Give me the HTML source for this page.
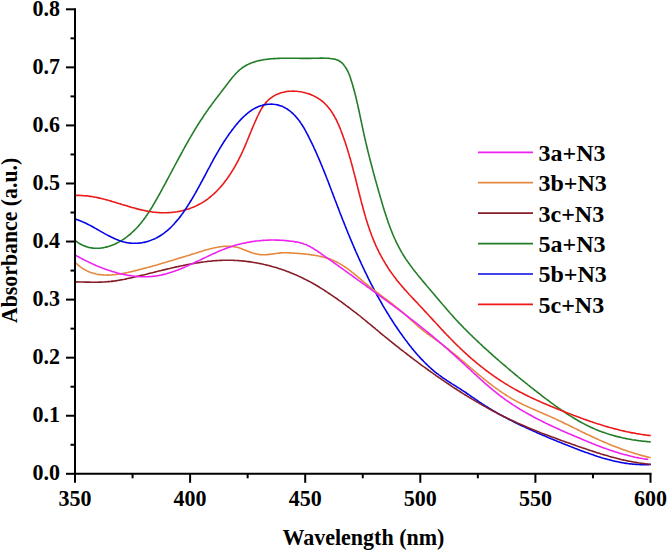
<!DOCTYPE html>
<html><head><meta charset="utf-8"><style>
html,body{margin:0;padding:0;background:#fff;}
body{width:668px;height:551px;overflow:hidden;}
svg{display:block;}
text{font-family:"Liberation Serif",serif;font-weight:bold;fill:#000;}
</style></head><body>
<svg width="668" height="551" viewBox="0 0 668 551">
<rect width="668" height="551" fill="#fff"/>
<g fill="none" stroke-width="1.6" stroke-linejoin="round" stroke-linecap="butt">
<path d="M74.83,240.21 C75.1,240.4 76.0,241.2 76.6,241.6 C77.2,242.1 77.8,242.5 78.4,242.9 C79.1,243.3 79.7,243.6 80.3,244.0 C80.9,244.3 81.5,244.7 82.1,245.0 C82.8,245.3 83.4,245.6 84.0,245.8 C84.6,246.1 85.3,246.3 85.9,246.5 C86.5,246.8 87.2,246.9 87.8,247.1 C88.5,247.3 89.1,247.5 89.7,247.6 C90.4,247.7 91.0,247.8 91.7,247.9 C92.3,248.0 92.9,248.1 93.6,248.2 C94.2,248.2 94.9,248.3 95.5,248.3 C96.2,248.3 96.8,248.3 97.5,248.3 C98.1,248.3 98.7,248.3 99.4,248.2 C100.0,248.2 100.7,248.1 101.3,248.0 C102.0,247.9 102.6,247.8 103.3,247.7 C103.9,247.6 104.5,247.5 105.2,247.3 C105.8,247.2 106.4,247.0 107.1,246.9 C107.7,246.7 108.3,246.5 109.0,246.3 C109.6,246.1 110.2,245.9 110.8,245.7 C111.5,245.5 112.1,245.2 112.7,245.0 C113.3,244.7 113.9,244.5 114.6,244.2 C115.2,243.9 115.8,243.6 116.4,243.3 C117.0,243.0 117.6,242.7 118.2,242.4 C118.8,242.1 119.4,241.8 119.9,241.4 C120.5,241.1 121.1,240.7 121.7,240.4 C122.3,240.0 122.8,239.7 123.4,239.3 C123.9,238.9 124.5,238.5 125.1,238.2 C125.6,237.8 126.2,237.4 126.7,237.0 C127.2,236.6 127.8,236.1 128.3,235.7 C128.8,235.3 129.3,234.9 129.9,234.5 C130.4,234.0 130.9,233.6 131.4,233.1 C131.9,232.7 132.4,232.2 132.8,231.8 C133.3,231.3 133.8,230.9 134.3,230.4 C134.8,230.0 135.2,229.5 135.7,229.0 C136.1,228.5 136.6,228.0 137.1,227.6 C137.5,227.1 137.9,226.6 138.4,226.1 C138.8,225.6 139.3,225.1 139.7,224.6 C140.1,224.1 140.5,223.6 141.0,223.1 C141.4,222.6 141.8,222.0 142.2,221.5 C142.6,221.0 143.0,220.5 143.4,219.9 C143.8,219.4 144.2,218.9 144.6,218.3 C145.0,217.8 145.4,217.3 145.8,216.7 C146.1,216.2 146.5,215.6 146.9,215.1 C147.3,214.5 147.6,214.0 148.0,213.4 C148.4,212.9 148.7,212.3 149.1,211.8 C149.5,211.2 149.8,210.6 150.2,210.1 C150.5,209.5 150.9,208.9 151.2,208.4 C151.6,207.8 151.9,207.2 152.3,206.7 C152.6,206.1 153.0,205.5 153.3,204.9 C153.7,204.4 154.0,203.8 154.3,203.2 C154.7,202.6 155.0,202.0 155.3,201.5 C155.7,200.9 156.0,200.3 156.3,199.7 C156.7,199.1 157.0,198.5 157.3,198.0 C157.7,197.4 158.0,196.8 158.3,196.2 C158.6,195.6 159.0,195.0 159.3,194.4 C159.6,193.9 159.9,193.3 160.3,192.7 C160.6,192.1 160.9,191.5 161.2,190.9 C161.5,190.3 161.9,189.7 162.2,189.2 C162.5,188.6 162.8,188.0 163.1,187.4 C163.5,186.8 163.8,186.2 164.1,185.6 C164.4,185.0 164.7,184.4 165.1,183.9 C165.4,183.3 165.7,182.7 166.0,182.1 C166.3,181.5 166.6,180.9 167.0,180.3 C167.3,179.7 167.6,179.1 167.9,178.5 C168.2,178.0 168.5,177.4 168.8,176.8 C169.2,176.2 169.5,175.6 169.8,175.0 C170.1,174.4 170.4,173.8 170.7,173.2 C171.0,172.6 171.4,172.1 171.7,171.5 C172.0,170.9 172.3,170.3 172.6,169.7 C172.9,169.1 173.2,168.5 173.6,167.9 C173.9,167.3 174.2,166.7 174.5,166.2 C174.8,165.6 175.1,165.0 175.4,164.4 C175.8,163.8 176.1,163.2 176.4,162.6 C176.7,162.0 177.0,161.4 177.3,160.9 C177.6,160.3 178.0,159.7 178.3,159.1 C178.6,158.5 178.9,157.9 179.2,157.3 C179.5,156.7 179.9,156.2 180.2,155.6 C180.5,155.0 180.8,154.4 181.1,153.8 C181.4,153.2 181.8,152.6 182.1,152.1 C182.4,151.5 182.7,150.9 183.0,150.3 C183.4,149.7 183.7,149.1 184.0,148.6 C184.3,148.0 184.6,147.4 185.0,146.8 C185.3,146.2 185.6,145.7 185.9,145.1 C186.3,144.5 186.6,143.9 186.9,143.3 C187.2,142.8 187.6,142.2 187.9,141.6 C188.2,141.0 188.6,140.5 188.9,139.9 C189.2,139.3 189.5,138.7 189.9,138.2 C190.2,137.6 190.5,137.0 190.9,136.4 C191.2,135.9 191.5,135.3 191.9,134.7 C192.2,134.2 192.6,133.6 192.9,133.0 C193.2,132.4 193.6,131.9 193.9,131.3 C194.3,130.7 194.6,130.2 194.9,129.6 C195.3,129.0 195.6,128.5 196.0,127.9 C196.3,127.4 196.7,126.8 197.0,126.2 C197.4,125.7 197.7,125.1 198.1,124.6 C198.4,124.0 198.8,123.4 199.1,122.9 C199.5,122.3 199.8,121.8 200.2,121.2 C200.6,120.7 200.9,120.1 201.3,119.5 C201.6,119.0 202.0,118.4 202.4,117.9 C202.7,117.3 203.1,116.8 203.5,116.2 C203.8,115.7 204.2,115.1 204.6,114.6 C204.9,114.1 205.3,113.5 205.7,113.0 C206.1,112.4 206.4,111.9 206.8,111.3 C207.2,110.8 207.6,110.3 208.0,109.7 C208.3,109.2 208.7,108.6 209.1,108.1 C209.5,107.6 209.9,107.0 210.3,106.5 C210.7,106.0 211.1,105.4 211.4,104.9 C211.8,104.4 212.2,103.8 212.6,103.3 C213.0,102.8 213.4,102.2 213.8,101.7 C214.2,101.2 214.6,100.6 215.0,100.1 C215.4,99.6 215.8,99.0 216.2,98.5 C216.6,98.0 217.0,97.5 217.4,96.9 C217.8,96.4 218.2,95.9 218.6,95.3 C219.0,94.8 219.4,94.3 219.9,93.7 C220.3,93.2 220.7,92.7 221.1,92.1 C221.5,91.6 221.9,91.0 222.3,90.5 C222.7,90.0 223.1,89.4 223.5,88.9 C224.0,88.3 224.4,87.8 224.8,87.3 C225.2,86.7 225.6,86.2 226.0,85.6 C226.4,85.1 226.9,84.5 227.3,84.0 C227.7,83.4 228.1,82.9 228.5,82.4 C228.9,81.8 229.4,81.3 229.8,80.7 C230.2,80.2 230.6,79.6 231.1,79.1 C231.5,78.6 231.9,78.0 232.3,77.5 C232.8,77.0 233.2,76.5 233.7,76.0 C234.1,75.5 234.6,74.9 235.0,74.5 C235.5,74.0 235.9,73.5 236.4,73.0 C236.9,72.5 237.3,72.0 237.8,71.6 C238.3,71.1 238.8,70.7 239.3,70.2 C239.8,69.8 240.3,69.4 240.8,69.0 C241.3,68.6 241.8,68.2 242.3,67.8 C242.8,67.4 243.4,67.0 243.9,66.7 C244.5,66.3 245.0,66.0 245.6,65.7 C246.1,65.4 246.7,65.1 247.3,64.8 C247.9,64.5 248.4,64.2 249.0,63.9 C249.6,63.7 250.2,63.4 250.8,63.2 C251.4,62.9 252.0,62.7 252.7,62.5 C253.3,62.3 253.9,62.0 254.5,61.9 C255.1,61.7 255.8,61.5 256.4,61.3 C257.0,61.1 257.7,61.0 258.3,60.8 C259.0,60.6 259.6,60.5 260.3,60.4 C260.9,60.2 261.6,60.1 262.2,60.0 C262.9,59.9 263.5,59.7 264.2,59.6 C264.9,59.5 265.5,59.4 266.2,59.4 C266.9,59.3 267.5,59.2 268.2,59.1 C268.9,59.0 269.6,59.0 270.2,58.9 C270.9,58.8 271.6,58.8 272.2,58.7 C272.9,58.7 273.6,58.6 274.3,58.6 C274.9,58.5 275.6,58.5 276.3,58.5 C277.0,58.4 277.6,58.4 278.3,58.4 C279.0,58.4 279.6,58.3 280.3,58.3 C281.0,58.3 281.6,58.3 282.3,58.3 C283.0,58.3 283.6,58.2 284.3,58.2 C285.0,58.2 285.7,58.2 286.3,58.2 C287.0,58.2 287.7,58.2 288.3,58.2 C289.0,58.2 289.7,58.2 290.3,58.2 C291.0,58.2 291.7,58.2 292.3,58.3 C293.0,58.3 293.6,58.3 294.3,58.3 C295.0,58.3 295.6,58.3 296.3,58.3 C297.0,58.3 297.6,58.3 298.3,58.3 C299.0,58.3 299.6,58.3 300.3,58.4 C301.0,58.4 301.6,58.4 302.3,58.4 C303.0,58.4 303.6,58.4 304.3,58.4 C305.0,58.4 305.6,58.4 306.3,58.4 C307.0,58.4 307.6,58.4 308.3,58.4 C309.0,58.4 309.6,58.4 310.3,58.4 C311.0,58.4 311.6,58.4 312.3,58.3 C313.0,58.3 313.6,58.3 314.3,58.3 C315.0,58.3 315.6,58.3 316.3,58.2 C317.0,58.2 317.6,58.2 318.3,58.2 C319.0,58.2 319.6,58.2 320.3,58.1 C321.0,58.1 321.6,58.1 322.3,58.1 C323.0,58.1 323.7,58.1 324.3,58.2 C325.0,58.2 325.7,58.2 326.3,58.2 C327.0,58.2 327.7,58.3 328.3,58.3 C329.0,58.4 329.7,58.4 330.3,58.5 C331.0,58.6 331.7,58.7 332.3,58.8 C333.0,58.9 333.6,59.0 334.3,59.1 C334.9,59.3 335.5,59.5 336.2,59.7 C336.8,59.9 337.4,60.1 338.0,60.3 C338.6,60.6 339.2,60.9 339.7,61.3 C340.3,61.6 340.8,62.0 341.3,62.4 C341.8,62.8 342.3,63.3 342.8,63.8 C343.2,64.3 343.7,64.8 344.1,65.4 C344.5,65.9 344.9,66.4 345.3,67.0 C345.7,67.5 346.0,68.1 346.4,68.7 C346.7,69.2 347.0,69.8 347.3,70.4 C347.6,71.0 347.9,71.6 348.2,72.2 C348.5,72.8 348.7,73.4 349.0,74.0 C349.3,74.6 349.5,75.3 349.7,75.9 C350.0,76.5 350.2,77.2 350.4,77.8 C350.6,78.4 350.8,79.1 351.0,79.7 C351.2,80.3 351.4,81.0 351.6,81.6 C351.8,82.3 352.0,82.9 352.2,83.5 C352.4,84.2 352.6,84.8 352.8,85.5 C352.9,86.1 353.1,86.8 353.3,87.4 C353.5,88.0 353.7,88.7 353.8,89.3 C354.0,90.0 354.2,90.6 354.4,91.3 C354.5,91.9 354.7,92.6 354.9,93.2 C355.0,93.9 355.2,94.5 355.4,95.2 C355.5,95.8 355.7,96.4 355.8,97.1 C356.0,97.7 356.1,98.4 356.3,99.0 C356.5,99.7 356.6,100.3 356.8,101.0 C356.9,101.6 357.1,102.3 357.2,102.9 C357.4,103.6 357.5,104.2 357.7,104.9 C357.8,105.5 357.9,106.2 358.1,106.8 C358.2,107.5 358.4,108.1 358.5,108.8 C358.7,109.4 358.8,110.1 359.0,110.7 C359.1,111.4 359.2,112.0 359.4,112.7 C359.5,113.3 359.7,114.0 359.8,114.6 C359.9,115.3 360.1,115.9 360.2,116.6 C360.3,117.2 360.5,117.9 360.6,118.5 C360.8,119.2 360.9,119.8 361.0,120.5 C361.2,121.1 361.3,121.8 361.4,122.4 C361.6,123.1 361.7,123.7 361.9,124.4 C362.0,125.0 362.1,125.7 362.3,126.3 C362.4,127.0 362.5,127.7 362.7,128.3 C362.8,129.0 363.0,129.6 363.1,130.2 C363.2,130.9 363.4,131.5 363.5,132.2 C363.7,132.8 363.8,133.5 364.0,134.1 C364.1,134.8 364.2,135.4 364.4,136.1 C364.5,136.7 364.7,137.4 364.8,138.0 C365.0,138.7 365.1,139.3 365.3,140.0 C365.4,140.6 365.6,141.3 365.7,141.9 C365.9,142.6 366.0,143.2 366.2,143.9 C366.3,144.5 366.5,145.2 366.6,145.8 C366.8,146.4 366.9,147.1 367.1,147.7 C367.3,148.4 367.4,149.0 367.6,149.7 C367.7,150.3 367.9,151.0 368.0,151.6 C368.2,152.3 368.4,152.9 368.5,153.5 C368.7,154.2 368.8,154.8 369.0,155.5 C369.2,156.1 369.3,156.8 369.5,157.4 C369.7,158.1 369.8,158.7 370.0,159.3 C370.1,160.0 370.3,160.6 370.5,161.3 C370.6,161.9 370.8,162.6 371.0,163.2 C371.1,163.9 371.3,164.5 371.5,165.1 C371.6,165.8 371.8,166.4 372.0,167.1 C372.2,167.7 372.3,168.4 372.5,169.0 C372.7,169.7 372.8,170.3 373.0,170.9 C373.2,171.6 373.4,172.2 373.5,172.9 C373.7,173.5 373.9,174.2 374.1,174.8 C374.2,175.4 374.4,176.1 374.6,176.7 C374.8,177.4 374.9,178.0 375.1,178.7 C375.3,179.3 375.5,179.9 375.6,180.6 C375.8,181.2 376.0,181.9 376.2,182.5 C376.4,183.2 376.5,183.8 376.7,184.4 C376.9,185.1 377.1,185.7 377.3,186.4 C377.4,187.0 377.6,187.7 377.8,188.3 C378.0,188.9 378.2,189.6 378.4,190.2 C378.5,190.9 378.7,191.5 378.9,192.2 C379.1,192.8 379.3,193.4 379.5,194.1 C379.7,194.7 379.8,195.4 380.0,196.0 C380.2,196.7 380.4,197.3 380.6,197.9 C380.8,198.6 381.0,199.2 381.2,199.9 C381.3,200.5 381.5,201.2 381.7,201.8 C381.9,202.4 382.1,203.1 382.3,203.7 C382.5,204.4 382.7,205.0 382.9,205.7 C383.1,206.3 383.3,206.9 383.4,207.6 C383.6,208.2 383.8,208.9 384.0,209.5 C384.2,210.1 384.4,210.8 384.6,211.4 C384.8,212.1 385.0,212.7 385.2,213.3 C385.4,214.0 385.6,214.6 385.9,215.3 C386.1,215.9 386.3,216.5 386.5,217.2 C386.7,217.8 386.9,218.4 387.1,219.1 C387.3,219.7 387.5,220.3 387.8,221.0 C388.0,221.6 388.2,222.2 388.4,222.9 C388.6,223.5 388.9,224.1 389.1,224.8 C389.3,225.4 389.6,226.0 389.8,226.6 C390.0,227.3 390.3,227.9 390.5,228.5 C390.7,229.1 391.0,229.7 391.2,230.4 C391.5,231.0 391.7,231.6 391.9,232.2 C392.2,232.8 392.5,233.5 392.7,234.1 C393.0,234.7 393.2,235.3 393.5,235.9 C393.7,236.5 394.0,237.1 394.3,237.7 C394.5,238.3 394.8,238.9 395.1,239.5 C395.4,240.1 395.6,240.7 395.9,241.3 C396.2,241.9 396.5,242.5 396.8,243.1 C397.1,243.7 397.4,244.3 397.7,244.9 C398.0,245.5 398.3,246.1 398.6,246.7 C398.9,247.3 399.2,247.9 399.5,248.4 C399.8,249.0 400.1,249.6 400.5,250.2 C400.8,250.7 401.1,251.3 401.4,251.9 C401.8,252.5 402.1,253.0 402.4,253.6 C402.8,254.2 403.1,254.7 403.5,255.3 C403.8,255.9 404.2,256.4 404.5,257.0 C404.9,257.5 405.3,258.1 405.6,258.6 C406.0,259.2 406.4,259.7 406.7,260.3 C407.1,260.8 407.5,261.4 407.9,261.9 C408.3,262.5 408.6,263.0 409.0,263.6 C409.4,264.1 409.8,264.6 410.2,265.2 C410.6,265.7 411.0,266.2 411.4,266.8 C411.8,267.3 412.2,267.8 412.6,268.4 C413.0,268.9 413.4,269.4 413.8,270.0 C414.2,270.5 414.6,271.0 415.0,271.5 C415.5,272.1 415.9,272.6 416.3,273.1 C416.7,273.6 417.1,274.2 417.5,274.7 C418.0,275.2 418.4,275.7 418.8,276.2 C419.2,276.8 419.7,277.3 420.1,277.8 C420.5,278.3 420.9,278.8 421.4,279.3 C421.8,279.8 422.2,280.4 422.7,280.9 C423.1,281.4 423.5,281.9 424.0,282.4 C424.4,282.9 424.8,283.4 425.3,283.9 C425.7,284.5 426.1,285.0 426.5,285.5 C427.0,286.0 427.4,286.5 427.8,287.0 C428.3,287.5 428.7,288.0 429.1,288.5 C429.6,289.0 430.0,289.5 430.4,290.1 C430.9,290.6 431.3,291.1 431.7,291.6 C432.2,292.1 432.6,292.6 433.0,293.1 C433.5,293.6 433.9,294.1 434.3,294.6 C434.8,295.1 435.2,295.6 435.6,296.2 C436.0,296.7 436.5,297.2 436.9,297.7 C437.3,298.2 437.8,298.7 438.2,299.2 C438.6,299.7 439.0,300.2 439.5,300.7 C439.9,301.2 440.3,301.7 440.7,302.2 C441.2,302.7 441.6,303.2 442.0,303.8 C442.5,304.3 442.9,304.8 443.3,305.3 C443.8,305.8 444.2,306.3 444.6,306.8 C445.0,307.3 445.5,307.8 445.9,308.3 C446.3,308.8 446.8,309.3 447.2,309.8 C447.6,310.3 448.1,310.8 448.5,311.3 C448.9,311.8 449.4,312.3 449.8,312.8 C450.3,313.3 450.7,313.8 451.1,314.3 C451.6,314.8 452.0,315.3 452.5,315.7 C452.9,316.2 453.3,316.7 453.8,317.2 C454.2,317.7 454.7,318.2 455.1,318.7 C455.6,319.2 456.0,319.7 456.5,320.2 C456.9,320.7 457.4,321.1 457.8,321.6 C458.3,322.1 458.7,322.6 459.2,323.1 C459.7,323.6 460.1,324.0 460.6,324.5 C461.0,325.0 461.5,325.5 462.0,326.0 C462.4,326.4 462.9,326.9 463.4,327.4 C463.8,327.9 464.3,328.4 464.8,328.8 C465.2,329.3 465.7,329.8 466.2,330.2 C466.6,330.7 467.1,331.2 467.6,331.7 C468.1,332.1 468.5,332.6 469.0,333.1 C469.5,333.5 470.0,334.0 470.4,334.5 C470.9,334.9 471.4,335.4 471.9,335.9 C472.3,336.3 472.8,336.8 473.3,337.3 C473.8,337.7 474.3,338.2 474.8,338.7 C475.2,339.1 475.7,339.6 476.2,340.0 C476.7,340.5 477.2,341.0 477.7,341.4 C478.2,341.9 478.6,342.3 479.1,342.8 C479.6,343.3 480.1,343.7 480.6,344.2 C481.1,344.6 481.6,345.1 482.1,345.5 C482.6,346.0 483.0,346.4 483.5,346.9 C484.0,347.3 484.5,347.8 485.0,348.2 C485.5,348.7 486.0,349.1 486.5,349.6 C487.0,350.0 487.5,350.5 488.0,350.9 C488.5,351.4 489.0,351.8 489.5,352.3 C490.0,352.7 490.5,353.2 491.0,353.6 C491.4,354.1 491.9,354.5 492.4,354.9 C492.9,355.4 493.4,355.8 493.9,356.3 C494.4,356.7 494.9,357.2 495.4,357.6 C495.9,358.0 496.4,358.5 496.9,358.9 C497.4,359.4 497.9,359.8 498.4,360.2 C498.9,360.7 499.4,361.1 499.9,361.5 C500.4,362.0 500.9,362.4 501.4,362.8 C501.9,363.3 502.4,363.7 502.9,364.1 C503.5,364.6 504.0,365.0 504.5,365.4 C505.0,365.9 505.5,366.3 506.0,366.7 C506.5,367.2 507.0,367.6 507.5,368.0 C508.0,368.5 508.5,368.9 509.0,369.3 C509.5,369.7 510.0,370.2 510.5,370.6 C511.0,371.0 511.6,371.5 512.1,371.9 C512.6,372.3 513.1,372.7 513.6,373.2 C514.1,373.6 514.6,374.0 515.1,374.4 C515.6,374.9 516.2,375.3 516.7,375.7 C517.2,376.1 517.7,376.5 518.2,377.0 C518.7,377.4 519.2,377.8 519.7,378.2 C520.3,378.6 520.8,379.1 521.3,379.5 C521.8,379.9 522.3,380.3 522.8,380.7 C523.4,381.2 523.9,381.6 524.4,382.0 C524.9,382.4 525.4,382.8 525.9,383.2 C526.5,383.7 527.0,384.1 527.5,384.5 C528.0,384.9 528.5,385.3 529.1,385.7 C529.6,386.1 530.1,386.6 530.6,387.0 C531.1,387.4 531.7,387.8 532.2,388.2 C532.7,388.6 533.2,389.0 533.8,389.4 C534.3,389.8 534.8,390.3 535.3,390.7 C535.9,391.1 536.4,391.5 536.9,391.9 C537.4,392.3 538.0,392.7 538.5,393.1 C539.0,393.5 539.6,393.9 540.1,394.3 C540.6,394.8 541.1,395.2 541.7,395.6 C542.2,396.0 542.7,396.4 543.3,396.8 C543.8,397.2 544.3,397.6 544.9,398.0 C545.4,398.4 545.9,398.8 546.5,399.2 C547.0,399.6 547.5,400.0 548.1,400.4 C548.6,400.8 549.1,401.2 549.7,401.6 C550.2,402.0 550.7,402.4 551.3,402.8 C551.8,403.2 552.4,403.6 552.9,404.0 C553.4,404.4 554.0,404.8 554.5,405.2 C555.1,405.6 555.6,406.0 556.2,406.4 C556.7,406.7 557.2,407.1 557.8,407.5 C558.3,407.9 558.9,408.3 559.4,408.7 C560.0,409.1 560.5,409.4 561.1,409.8 C561.6,410.2 562.2,410.6 562.7,410.9 C563.3,411.3 563.8,411.7 564.4,412.1 C564.9,412.4 565.5,412.8 566.1,413.2 C566.6,413.5 567.2,413.9 567.7,414.3 C568.3,414.6 568.8,415.0 569.4,415.4 C570.0,415.7 570.5,416.1 571.1,416.4 C571.7,416.8 572.2,417.1 572.8,417.5 C573.4,417.8 573.9,418.2 574.5,418.5 C575.1,418.9 575.6,419.2 576.2,419.5 C576.8,419.9 577.4,420.2 577.9,420.5 C578.5,420.9 579.1,421.2 579.7,421.5 C580.3,421.8 580.8,422.2 581.4,422.5 C582.0,422.8 582.6,423.1 583.2,423.4 C583.8,423.7 584.3,424.0 584.9,424.3 C585.5,424.7 586.1,425.0 586.7,425.2 C587.3,425.5 587.9,425.8 588.5,426.1 C589.1,426.4 589.7,426.7 590.3,427.0 C590.9,427.3 591.5,427.5 592.1,427.8 C592.7,428.1 593.3,428.4 593.9,428.6 C594.5,428.9 595.1,429.2 595.7,429.4 C596.3,429.7 597.0,429.9 597.6,430.2 C598.2,430.4 598.8,430.7 599.4,430.9 C600.0,431.1 600.7,431.4 601.3,431.6 C601.9,431.8 602.5,432.1 603.2,432.3 C603.8,432.5 604.4,432.7 605.1,432.9 C605.7,433.2 606.3,433.4 606.9,433.6 C607.6,433.8 608.2,434.0 608.8,434.2 C609.5,434.4 610.1,434.6 610.8,434.8 C611.4,435.0 612.0,435.1 612.7,435.3 C613.3,435.5 614.0,435.7 614.6,435.9 C615.3,436.0 615.9,436.2 616.5,436.4 C617.2,436.5 617.8,436.7 618.5,436.9 C619.1,437.0 619.8,437.2 620.4,437.3 C621.1,437.5 621.7,437.6 622.4,437.8 C623.0,437.9 623.7,438.1 624.4,438.2 C625.0,438.3 625.7,438.5 626.3,438.6 C627.0,438.7 627.6,438.9 628.3,439.0 C628.9,439.1 629.6,439.2 630.3,439.3 C630.9,439.5 631.6,439.6 632.2,439.7 C632.9,439.8 633.6,439.9 634.2,440.0 C634.9,440.1 635.5,440.2 636.2,440.3 C636.9,440.4 637.5,440.5 638.2,440.6 C638.8,440.7 639.5,440.8 640.2,440.8 C640.8,440.9 641.5,441.0 642.2,441.1 C642.8,441.2 643.5,441.2 644.1,441.3 C644.8,441.4 645.5,441.4 646.1,441.5 C646.8,441.6 647.5,441.6 648.1,441.7 C648.8,441.8 649.7,441.8 650.1,441.9 C650.5,441.9 650.6,441.9 650.7,441.9" stroke="#237d28"/>
<path d="M75.10,195.50 C75.4,195.5 76.4,195.4 77.1,195.4 C77.7,195.4 78.4,195.4 79.0,195.4 C79.7,195.4 80.4,195.4 81.0,195.5 C81.7,195.5 82.3,195.5 83.0,195.6 C83.6,195.6 84.3,195.6 84.9,195.7 C85.6,195.7 86.2,195.8 86.9,195.9 C87.5,196.0 88.2,196.0 88.8,196.1 C89.5,196.2 90.2,196.3 90.8,196.4 C91.5,196.5 92.1,196.6 92.8,196.7 C93.4,196.8 94.1,196.9 94.7,197.1 C95.4,197.2 96.0,197.3 96.7,197.4 C97.3,197.6 98.0,197.7 98.6,197.9 C99.3,198.0 99.9,198.1 100.5,198.3 C101.2,198.4 101.8,198.6 102.5,198.8 C103.1,198.9 103.8,199.1 104.4,199.3 C105.1,199.4 105.7,199.6 106.4,199.8 C107.0,200.0 107.7,200.1 108.3,200.3 C109.0,200.5 109.6,200.7 110.3,200.9 C110.9,201.0 111.6,201.2 112.2,201.4 C112.9,201.6 113.5,201.8 114.1,202.0 C114.8,202.2 115.4,202.4 116.1,202.6 C116.7,202.8 117.4,203.0 118.0,203.2 C118.7,203.4 119.3,203.6 120.0,203.8 C120.6,204.0 121.3,204.2 121.9,204.4 C122.6,204.6 123.2,204.8 123.9,205.0 C124.5,205.2 125.2,205.4 125.8,205.6 C126.4,205.8 127.1,206.0 127.7,206.1 C128.4,206.3 129.0,206.5 129.7,206.7 C130.3,206.9 131.0,207.1 131.6,207.3 C132.3,207.5 132.9,207.7 133.6,207.8 C134.2,208.0 134.9,208.2 135.5,208.4 C136.2,208.6 136.8,208.7 137.5,208.9 C138.1,209.1 138.8,209.2 139.4,209.4 C140.1,209.6 140.7,209.7 141.4,209.9 C142.0,210.0 142.7,210.2 143.4,210.3 C144.0,210.5 144.7,210.6 145.3,210.7 C146.0,210.9 146.6,211.0 147.3,211.1 C147.9,211.2 148.6,211.4 149.2,211.5 C149.9,211.6 150.6,211.7 151.2,211.8 C151.9,211.9 152.5,212.0 153.2,212.1 C153.8,212.1 154.5,212.2 155.2,212.3 C155.8,212.4 156.5,212.4 157.1,212.5 C157.8,212.5 158.5,212.6 159.1,212.6 C159.8,212.7 160.4,212.7 161.1,212.7 C161.8,212.7 162.4,212.8 163.1,212.8 C163.7,212.8 164.4,212.8 165.1,212.8 C165.7,212.8 166.4,212.7 167.1,212.7 C167.7,212.7 168.4,212.7 169.0,212.6 C169.7,212.6 170.4,212.5 171.0,212.5 C171.7,212.4 172.3,212.4 173.0,212.3 C173.6,212.2 174.3,212.1 175.0,212.0 C175.6,212.0 176.3,211.9 176.9,211.8 C177.6,211.6 178.2,211.5 178.9,211.4 C179.5,211.3 180.2,211.2 180.8,211.0 C181.4,210.9 182.1,210.7 182.7,210.6 C183.4,210.4 184.0,210.3 184.6,210.1 C185.3,209.9 185.9,209.7 186.5,209.5 C187.2,209.4 187.8,209.2 188.4,209.0 C189.0,208.8 189.7,208.5 190.3,208.3 C190.9,208.1 191.5,207.9 192.1,207.6 C192.7,207.4 193.3,207.1 193.9,206.9 C194.5,206.6 195.1,206.4 195.7,206.1 C196.3,205.8 196.9,205.5 197.5,205.2 C198.1,204.9 198.7,204.6 199.2,204.3 C199.8,204.0 200.4,203.7 201.0,203.4 C201.5,203.1 202.1,202.7 202.7,202.4 C203.2,202.0 203.8,201.7 204.3,201.3 C204.9,201.0 205.4,200.6 206.0,200.2 C206.5,199.9 207.0,199.5 207.6,199.1 C208.1,198.7 208.6,198.3 209.1,197.9 C209.7,197.5 210.2,197.1 210.7,196.6 C211.2,196.2 211.7,195.8 212.2,195.3 C212.7,194.9 213.2,194.5 213.7,194.0 C214.2,193.6 214.7,193.1 215.2,192.6 C215.6,192.2 216.1,191.7 216.6,191.2 C217.1,190.8 217.5,190.3 218.0,189.8 C218.5,189.3 218.9,188.8 219.4,188.3 C219.8,187.8 220.3,187.3 220.7,186.8 C221.2,186.3 221.6,185.8 222.0,185.2 C222.5,184.7 222.9,184.2 223.3,183.7 C223.8,183.1 224.2,182.6 224.6,182.1 C225.0,181.5 225.4,181.0 225.8,180.4 C226.3,179.9 226.7,179.3 227.1,178.8 C227.5,178.2 227.9,177.7 228.2,177.1 C228.6,176.5 229.0,176.0 229.4,175.4 C229.8,174.8 230.2,174.3 230.5,173.7 C230.9,173.1 231.3,172.6 231.6,172.0 C232.0,171.4 232.4,170.8 232.7,170.2 C233.1,169.6 233.4,169.1 233.8,168.5 C234.1,167.9 234.5,167.3 234.8,166.7 C235.2,166.1 235.5,165.5 235.8,164.9 C236.2,164.3 236.5,163.7 236.8,163.1 C237.1,162.5 237.5,161.9 237.8,161.3 C238.1,160.7 238.4,160.1 238.7,159.5 C239.0,158.9 239.3,158.3 239.6,157.7 C239.9,157.1 240.2,156.5 240.5,155.9 C240.8,155.3 241.1,154.7 241.4,154.1 C241.7,153.5 241.9,152.9 242.2,152.3 C242.5,151.7 242.8,151.1 243.0,150.5 C243.3,149.9 243.6,149.3 243.8,148.7 C244.1,148.2 244.4,147.6 244.6,147.0 C244.9,146.4 245.1,145.8 245.4,145.2 C245.6,144.6 245.9,144.0 246.1,143.4 C246.4,142.8 246.6,142.2 246.9,141.6 C247.1,141.0 247.4,140.4 247.6,139.8 C247.9,139.2 248.1,138.6 248.3,138.0 C248.6,137.4 248.8,136.8 249.1,136.2 C249.3,135.6 249.6,135.0 249.8,134.4 C250.0,133.8 250.3,133.2 250.5,132.6 C250.8,132.0 251.0,131.4 251.3,130.8 C251.5,130.2 251.8,129.6 252.0,129.0 C252.3,128.4 252.5,127.8 252.8,127.2 C253.0,126.6 253.3,126.0 253.6,125.3 C253.8,124.7 254.1,124.1 254.4,123.5 C254.6,122.9 254.9,122.3 255.2,121.6 C255.4,121.0 255.7,120.4 256.0,119.8 C256.3,119.1 256.6,118.5 256.9,117.9 C257.1,117.2 257.4,116.6 257.7,116.0 C258.0,115.3 258.3,114.7 258.7,114.1 C259.0,113.4 259.3,112.8 259.6,112.2 C259.9,111.6 260.3,111.0 260.6,110.3 C261.0,109.7 261.3,109.1 261.7,108.5 C262.0,107.9 262.4,107.4 262.8,106.8 C263.2,106.2 263.6,105.6 264.0,105.1 C264.4,104.5 264.8,104.0 265.2,103.5 C265.6,102.9 266.0,102.4 266.5,101.9 C266.9,101.4 267.4,101.0 267.9,100.5 C268.3,100.0 268.8,99.6 269.3,99.2 C269.8,98.8 270.3,98.4 270.8,98.0 C271.4,97.6 271.9,97.2 272.4,96.8 C273.0,96.5 273.5,96.2 274.1,95.8 C274.6,95.5 275.2,95.2 275.8,94.9 C276.4,94.6 276.9,94.4 277.5,94.1 C278.1,93.9 278.7,93.6 279.3,93.4 C280.0,93.2 280.6,93.0 281.2,92.8 C281.8,92.6 282.4,92.4 283.1,92.3 C283.7,92.1 284.4,92.0 285.0,91.9 C285.6,91.7 286.3,91.6 286.9,91.5 C287.6,91.4 288.3,91.4 288.9,91.3 C289.6,91.2 290.2,91.2 290.9,91.2 C291.6,91.1 292.2,91.1 292.9,91.1 C293.6,91.1 294.2,91.1 294.9,91.2 C295.6,91.2 296.2,91.2 296.9,91.3 C297.6,91.3 298.3,91.4 298.9,91.5 C299.6,91.6 300.3,91.7 300.9,91.8 C301.6,91.9 302.3,92.0 302.9,92.2 C303.6,92.3 304.2,92.5 304.9,92.7 C305.5,92.8 306.2,93.0 306.8,93.2 C307.5,93.4 308.1,93.6 308.8,93.8 C309.4,94.1 310.0,94.3 310.7,94.5 C311.3,94.8 311.9,95.0 312.5,95.3 C313.1,95.6 313.7,95.9 314.3,96.2 C314.9,96.5 315.5,96.8 316.1,97.1 C316.7,97.5 317.3,97.8 317.8,98.1 C318.4,98.5 319.0,98.9 319.5,99.2 C320.1,99.6 320.6,100.0 321.1,100.4 C321.6,100.8 322.2,101.2 322.7,101.6 C323.2,102.0 323.7,102.5 324.1,102.9 C324.6,103.3 325.1,103.8 325.5,104.3 C326.0,104.7 326.5,105.2 326.9,105.7 C327.3,106.2 327.8,106.7 328.2,107.2 C328.6,107.7 329.0,108.2 329.4,108.7 C329.8,109.2 330.2,109.8 330.6,110.3 C331.0,110.8 331.3,111.4 331.7,111.9 C332.1,112.5 332.4,113.0 332.8,113.6 C333.1,114.2 333.5,114.7 333.8,115.3 C334.2,115.9 334.5,116.5 334.8,117.1 C335.1,117.6 335.4,118.2 335.7,118.8 C336.1,119.4 336.4,120.0 336.7,120.6 C337.0,121.3 337.2,121.9 337.5,122.5 C337.8,123.1 338.1,123.7 338.4,124.3 C338.6,125.0 338.9,125.6 339.2,126.2 C339.4,126.8 339.7,127.5 340.0,128.1 C340.2,128.7 340.5,129.4 340.7,130.0 C341.0,130.6 341.2,131.3 341.4,131.9 C341.7,132.5 341.9,133.2 342.2,133.8 C342.4,134.4 342.6,135.1 342.9,135.7 C343.1,136.3 343.3,137.0 343.5,137.6 C343.8,138.3 344.0,138.9 344.2,139.5 C344.4,140.2 344.6,140.8 344.9,141.4 C345.1,142.1 345.3,142.7 345.5,143.3 C345.7,144.0 345.9,144.6 346.1,145.2 C346.3,145.9 346.5,146.5 346.7,147.1 C346.9,147.8 347.1,148.4 347.3,149.1 C347.5,149.7 347.7,150.3 347.9,151.0 C348.1,151.6 348.3,152.2 348.5,152.9 C348.7,153.5 348.9,154.1 349.1,154.8 C349.3,155.4 349.4,156.0 349.6,156.7 C349.8,157.3 350.0,157.9 350.2,158.6 C350.4,159.2 350.5,159.9 350.7,160.5 C350.9,161.1 351.1,161.8 351.2,162.4 C351.4,163.0 351.6,163.7 351.8,164.3 C351.9,164.9 352.1,165.6 352.3,166.2 C352.5,166.9 352.6,167.5 352.8,168.1 C353.0,168.8 353.1,169.4 353.3,170.0 C353.5,170.7 353.6,171.3 353.8,172.0 C354.0,172.6 354.1,173.2 354.3,173.9 C354.5,174.5 354.6,175.2 354.8,175.8 C354.9,176.4 355.1,177.1 355.3,177.7 C355.4,178.4 355.6,179.0 355.8,179.6 C355.9,180.3 356.1,180.9 356.2,181.6 C356.4,182.2 356.6,182.8 356.7,183.5 C356.9,184.1 357.0,184.8 357.2,185.4 C357.4,186.1 357.5,186.7 357.7,187.4 C357.9,188.0 358.0,188.6 358.2,189.3 C358.3,189.9 358.5,190.6 358.7,191.2 C358.8,191.9 359.0,192.5 359.1,193.2 C359.3,193.8 359.5,194.5 359.6,195.1 C359.8,195.7 360.0,196.4 360.1,197.0 C360.3,197.7 360.5,198.3 360.6,199.0 C360.8,199.6 361.0,200.3 361.1,200.9 C361.3,201.6 361.5,202.2 361.6,202.9 C361.8,203.5 362.0,204.2 362.1,204.8 C362.3,205.5 362.5,206.1 362.7,206.8 C362.8,207.4 363.0,208.1 363.2,208.7 C363.4,209.4 363.5,210.0 363.7,210.6 C363.9,211.3 364.1,211.9 364.3,212.6 C364.4,213.2 364.6,213.9 364.8,214.5 C365.0,215.2 365.2,215.8 365.4,216.5 C365.6,217.1 365.8,217.7 365.9,218.4 C366.1,219.0 366.3,219.7 366.5,220.3 C366.7,220.9 366.9,221.6 367.1,222.2 C367.3,222.9 367.5,223.5 367.7,224.1 C367.9,224.8 368.2,225.4 368.4,226.1 C368.6,226.7 368.8,227.3 369.0,228.0 C369.2,228.6 369.4,229.2 369.7,229.9 C369.9,230.5 370.1,231.1 370.3,231.7 C370.6,232.4 370.8,233.0 371.0,233.6 C371.2,234.3 371.5,234.9 371.7,235.5 C372.0,236.1 372.2,236.7 372.4,237.4 C372.7,238.0 372.9,238.6 373.2,239.2 C373.4,239.8 373.7,240.5 373.9,241.1 C374.2,241.7 374.5,242.3 374.7,242.9 C375.0,243.5 375.3,244.1 375.5,244.7 C375.8,245.4 376.1,246.0 376.3,246.6 C376.6,247.2 376.9,247.8 377.2,248.4 C377.5,249.0 377.8,249.6 378.1,250.2 C378.3,250.8 378.6,251.4 378.9,252.0 C379.2,252.6 379.5,253.1 379.8,253.7 C380.1,254.3 380.5,254.9 380.8,255.5 C381.1,256.1 381.4,256.7 381.7,257.2 C382.0,257.8 382.4,258.4 382.7,259.0 C383.0,259.6 383.3,260.1 383.7,260.7 C384.0,261.3 384.3,261.9 384.7,262.4 C385.0,263.0 385.4,263.6 385.7,264.1 C386.1,264.7 386.4,265.3 386.8,265.8 C387.1,266.4 387.5,266.9 387.8,267.5 C388.2,268.1 388.5,268.6 388.9,269.2 C389.3,269.7 389.6,270.3 390.0,270.8 C390.4,271.4 390.8,271.9 391.2,272.4 C391.5,273.0 391.9,273.5 392.3,274.1 C392.7,274.6 393.1,275.1 393.5,275.7 C393.9,276.2 394.3,276.7 394.7,277.3 C395.1,277.8 395.5,278.3 395.9,278.8 C396.3,279.4 396.7,279.9 397.1,280.4 C397.5,280.9 397.9,281.4 398.4,282.0 C398.8,282.5 399.2,283.0 399.6,283.5 C400.0,284.0 400.5,284.5 400.9,285.0 C401.3,285.5 401.8,286.0 402.2,286.5 C402.6,287.1 403.1,287.6 403.5,288.1 C403.9,288.6 404.4,289.1 404.8,289.6 C405.3,290.1 405.7,290.6 406.2,291.0 C406.6,291.5 407.1,292.0 407.5,292.5 C407.9,293.0 408.4,293.5 408.8,294.0 C409.3,294.5 409.8,295.0 410.2,295.5 C410.7,296.0 411.1,296.5 411.6,297.0 C412.0,297.4 412.5,297.9 412.9,298.4 C413.4,298.9 413.8,299.4 414.3,299.9 C414.8,300.4 415.2,300.9 415.7,301.3 C416.1,301.8 416.6,302.3 417.1,302.8 C417.5,303.3 418.0,303.8 418.4,304.3 C418.9,304.7 419.3,305.2 419.8,305.7 C420.3,306.2 420.7,306.7 421.2,307.2 C421.6,307.7 422.1,308.1 422.5,308.6 C423.0,309.1 423.5,309.6 423.9,310.1 C424.4,310.6 424.8,311.1 425.3,311.6 C425.7,312.0 426.2,312.5 426.6,313.0 C427.1,313.5 427.5,314.0 428.0,314.5 C428.4,315.0 428.9,315.5 429.3,316.0 C429.8,316.5 430.2,316.9 430.7,317.4 C431.1,317.9 431.6,318.4 432.0,318.9 C432.5,319.4 432.9,319.9 433.4,320.4 C433.8,320.9 434.3,321.4 434.7,321.8 C435.2,322.3 435.6,322.8 436.1,323.3 C436.6,323.8 437.0,324.3 437.5,324.8 C437.9,325.3 438.4,325.8 438.8,326.2 C439.3,326.7 439.7,327.2 440.2,327.7 C440.6,328.2 441.1,328.7 441.5,329.2 C442.0,329.7 442.4,330.1 442.9,330.6 C443.3,331.1 443.8,331.6 444.2,332.1 C444.7,332.6 445.2,333.0 445.6,333.5 C446.1,334.0 446.5,334.5 447.0,335.0 C447.4,335.5 447.9,335.9 448.4,336.4 C448.8,336.9 449.3,337.4 449.7,337.8 C450.2,338.3 450.7,338.8 451.1,339.3 C451.6,339.8 452.1,340.2 452.5,340.7 C453.0,341.2 453.5,341.6 453.9,342.1 C454.4,342.6 454.9,343.1 455.3,343.5 C455.8,344.0 456.3,344.5 456.8,344.9 C457.2,345.4 457.7,345.9 458.2,346.3 C458.7,346.8 459.1,347.3 459.6,347.7 C460.1,348.2 460.6,348.6 461.1,349.1 C461.5,349.6 462.0,350.0 462.5,350.5 C463.0,350.9 463.5,351.4 464.0,351.8 C464.5,352.3 465.0,352.7 465.4,353.2 C465.9,353.6 466.4,354.1 466.9,354.5 C467.4,355.0 467.9,355.4 468.4,355.9 C468.9,356.3 469.4,356.7 469.9,357.2 C470.4,357.6 470.9,358.1 471.4,358.5 C471.9,358.9 472.4,359.4 472.9,359.8 C473.4,360.2 474.0,360.7 474.5,361.1 C475.0,361.5 475.5,362.0 476.0,362.4 C476.5,362.8 477.0,363.2 477.5,363.7 C478.1,364.1 478.6,364.5 479.1,364.9 C479.6,365.3 480.1,365.8 480.7,366.2 C481.2,366.6 481.7,367.0 482.2,367.4 C482.8,367.8 483.3,368.2 483.8,368.6 C484.3,369.0 484.9,369.5 485.4,369.9 C485.9,370.3 486.5,370.7 487.0,371.1 C487.5,371.5 488.1,371.9 488.6,372.3 C489.1,372.7 489.7,373.0 490.2,373.4 C490.8,373.8 491.3,374.2 491.8,374.6 C492.4,375.0 492.9,375.4 493.5,375.8 C494.0,376.2 494.6,376.5 495.1,376.9 C495.7,377.3 496.2,377.7 496.8,378.0 C497.3,378.4 497.9,378.8 498.4,379.2 C499.0,379.5 499.5,379.9 500.1,380.3 C500.6,380.6 501.2,381.0 501.8,381.4 C502.3,381.7 502.9,382.1 503.4,382.4 C504.0,382.8 504.6,383.1 505.1,383.5 C505.7,383.9 506.3,384.2 506.8,384.5 C507.4,384.9 508.0,385.2 508.5,385.6 C509.1,385.9 509.7,386.3 510.3,386.6 C510.8,386.9 511.4,387.3 512.0,387.6 C512.6,387.9 513.1,388.3 513.7,388.6 C514.3,388.9 514.9,389.3 515.5,389.6 C516.0,389.9 516.6,390.2 517.2,390.5 C517.8,390.9 518.4,391.2 519.0,391.5 C519.6,391.8 520.1,392.1 520.7,392.4 C521.3,392.7 521.9,393.0 522.5,393.3 C523.1,393.6 523.7,393.9 524.3,394.2 C524.9,394.5 525.5,394.8 526.1,395.1 C526.7,395.4 527.3,395.7 527.9,396.0 C528.5,396.3 529.1,396.6 529.7,396.9 C530.3,397.2 530.9,397.5 531.5,397.7 C532.1,398.0 532.7,398.3 533.3,398.6 C533.9,398.9 534.5,399.1 535.1,399.4 C535.7,399.7 536.3,400.0 536.9,400.2 C537.5,400.5 538.1,400.8 538.7,401.1 C539.3,401.3 540.0,401.6 540.6,401.9 C541.2,402.1 541.8,402.4 542.4,402.7 C543.0,402.9 543.6,403.2 544.2,403.5 C544.8,403.7 545.5,404.0 546.1,404.2 C546.7,404.5 547.3,404.8 547.9,405.0 C548.5,405.3 549.1,405.5 549.8,405.8 C550.4,406.1 551.0,406.3 551.6,406.6 C552.2,406.8 552.8,407.1 553.5,407.3 C554.1,407.6 554.7,407.8 555.3,408.1 C555.9,408.3 556.6,408.6 557.2,408.8 C557.8,409.1 558.4,409.3 559.0,409.6 C559.7,409.8 560.3,410.1 560.9,410.3 C561.5,410.6 562.1,410.8 562.7,411.1 C563.4,411.3 564.0,411.5 564.6,411.8 C565.2,412.0 565.9,412.3 566.5,412.5 C567.1,412.8 567.7,413.0 568.3,413.3 C569.0,413.5 569.6,413.7 570.2,414.0 C570.8,414.2 571.4,414.5 572.1,414.7 C572.7,414.9 573.3,415.2 573.9,415.4 C574.6,415.6 575.2,415.9 575.8,416.1 C576.4,416.3 577.1,416.6 577.7,416.8 C578.3,417.0 578.9,417.3 579.6,417.5 C580.2,417.7 580.8,418.0 581.4,418.2 C582.1,418.4 582.7,418.6 583.3,418.9 C583.9,419.1 584.6,419.3 585.2,419.5 C585.8,419.8 586.4,420.0 587.1,420.2 C587.7,420.4 588.3,420.7 589.0,420.9 C589.6,421.1 590.2,421.3 590.8,421.5 C591.5,421.7 592.1,421.9 592.7,422.2 C593.4,422.4 594.0,422.6 594.6,422.8 C595.3,423.0 595.9,423.2 596.5,423.4 C597.2,423.6 597.8,423.8 598.4,424.0 C599.1,424.2 599.7,424.4 600.3,424.6 C601.0,424.8 601.6,425.0 602.2,425.2 C602.9,425.4 603.5,425.6 604.1,425.8 C604.8,426.0 605.4,426.2 606.0,426.4 C606.7,426.6 607.3,426.7 608.0,426.9 C608.6,427.1 609.2,427.3 609.9,427.5 C610.5,427.6 611.2,427.8 611.8,428.0 C612.4,428.2 613.1,428.3 613.7,428.5 C614.4,428.7 615.0,428.9 615.7,429.0 C616.3,429.2 616.9,429.4 617.6,429.5 C618.2,429.7 618.9,429.8 619.5,430.0 C620.2,430.2 620.8,430.3 621.5,430.5 C622.1,430.6 622.8,430.8 623.4,430.9 C624.1,431.1 624.7,431.2 625.4,431.4 C626.0,431.5 626.7,431.6 627.3,431.8 C628.0,431.9 628.6,432.1 629.3,432.2 C629.9,432.3 630.6,432.5 631.2,432.6 C631.9,432.7 632.6,432.8 633.2,433.0 C633.9,433.1 634.5,433.2 635.2,433.3 C635.8,433.4 636.5,433.6 637.2,433.7 C637.8,433.8 638.5,433.9 639.1,434.0 C639.8,434.1 640.5,434.2 641.1,434.3 C641.8,434.4 642.5,434.5 643.1,434.6 C643.8,434.7 644.5,434.8 645.1,434.9 C645.8,435.0 646.5,435.0 647.1,435.1 C647.8,435.2 648.5,435.3 649.1,435.4 C649.7,435.4 650.5,435.5 650.8,435.5" stroke="#eb1919"/>
<path d="M75.02,219.11 C75.3,219.2 76.2,219.5 76.9,219.6 C77.5,219.8 78.1,220.0 78.7,220.2 C79.3,220.5 79.9,220.7 80.5,220.9 C81.1,221.2 81.7,221.4 82.3,221.7 C82.9,221.9 83.5,222.2 84.1,222.5 C84.7,222.7 85.3,223.0 85.9,223.3 C86.5,223.6 87.1,223.9 87.7,224.2 C88.3,224.5 88.9,224.8 89.5,225.1 C90.1,225.4 90.7,225.7 91.3,226.0 C91.9,226.4 92.5,226.7 93.1,227.0 C93.7,227.4 94.3,227.7 94.9,228.0 C95.4,228.4 96.0,228.7 96.6,229.0 C97.2,229.4 97.8,229.7 98.4,230.1 C99.0,230.4 99.6,230.7 100.2,231.1 C100.8,231.4 101.4,231.8 102.0,232.1 C102.6,232.4 103.2,232.8 103.8,233.1 C104.4,233.5 105.0,233.8 105.6,234.1 C106.2,234.4 106.8,234.8 107.4,235.1 C108.0,235.4 108.6,235.7 109.2,236.0 C109.8,236.4 110.5,236.7 111.1,237.0 C111.7,237.3 112.3,237.6 112.9,237.8 C113.5,238.1 114.1,238.4 114.7,238.7 C115.4,238.9 116.0,239.2 116.6,239.5 C117.2,239.7 117.8,240.0 118.5,240.2 C119.1,240.4 119.7,240.6 120.3,240.9 C121.0,241.1 121.6,241.3 122.2,241.5 C122.9,241.6 123.5,241.8 124.1,242.0 C124.8,242.1 125.4,242.3 126.1,242.4 C126.7,242.6 127.4,242.7 128.0,242.8 C128.7,242.9 129.3,243.0 130.0,243.1 C130.6,243.1 131.3,243.2 132.0,243.2 C132.6,243.3 133.3,243.3 133.9,243.3 C134.6,243.3 135.3,243.3 135.9,243.3 C136.6,243.3 137.3,243.2 137.9,243.2 C138.6,243.1 139.3,243.1 139.9,243.0 C140.6,242.9 141.3,242.8 141.9,242.7 C142.6,242.6 143.2,242.5 143.9,242.4 C144.6,242.2 145.2,242.1 145.9,241.9 C146.5,241.8 147.1,241.6 147.8,241.4 C148.4,241.2 149.0,241.0 149.7,240.8 C150.3,240.6 150.9,240.4 151.5,240.1 C152.1,239.9 152.7,239.7 153.3,239.4 C153.9,239.1 154.5,238.9 155.1,238.6 C155.7,238.3 156.3,238.0 156.9,237.7 C157.4,237.4 158.0,237.1 158.6,236.8 C159.1,236.4 159.7,236.1 160.2,235.8 C160.8,235.4 161.3,235.1 161.9,234.7 C162.4,234.3 162.9,234.0 163.5,233.6 C164.0,233.2 164.5,232.8 165.0,232.4 C165.5,232.0 166.0,231.6 166.6,231.2 C167.1,230.7 167.6,230.3 168.1,229.9 C168.5,229.5 169.0,229.0 169.5,228.6 C170.0,228.1 170.5,227.7 171.0,227.2 C171.4,226.7 171.9,226.3 172.4,225.8 C172.8,225.3 173.3,224.8 173.8,224.3 C174.2,223.8 174.7,223.3 175.1,222.8 C175.6,222.3 176.0,221.8 176.4,221.3 C176.9,220.8 177.3,220.3 177.7,219.8 C178.2,219.2 178.6,218.7 179.0,218.2 C179.4,217.7 179.8,217.1 180.3,216.6 C180.7,216.0 181.1,215.5 181.5,214.9 C181.9,214.4 182.3,213.8 182.7,213.3 C183.1,212.7 183.5,212.2 183.9,211.6 C184.3,211.1 184.7,210.5 185.0,209.9 C185.4,209.4 185.8,208.8 186.2,208.2 C186.6,207.6 186.9,207.1 187.3,206.5 C187.7,205.9 188.0,205.4 188.4,204.8 C188.8,204.2 189.1,203.6 189.5,203.0 C189.8,202.5 190.2,201.9 190.6,201.3 C190.9,200.7 191.3,200.1 191.6,199.6 C192.0,199.0 192.3,198.4 192.6,197.8 C193.0,197.2 193.3,196.7 193.7,196.1 C194.0,195.5 194.3,194.9 194.7,194.3 C195.0,193.7 195.3,193.2 195.7,192.6 C196.0,192.0 196.3,191.4 196.7,190.8 C197.0,190.3 197.3,189.7 197.6,189.1 C197.9,188.5 198.3,187.9 198.6,187.3 C198.9,186.8 199.2,186.2 199.5,185.6 C199.9,185.0 200.2,184.4 200.5,183.8 C200.8,183.2 201.1,182.7 201.4,182.1 C201.8,181.5 202.1,180.9 202.4,180.3 C202.7,179.7 203.0,179.2 203.3,178.6 C203.6,178.0 203.9,177.4 204.2,176.8 C204.5,176.2 204.9,175.7 205.2,175.1 C205.5,174.5 205.8,173.9 206.1,173.3 C206.4,172.8 206.7,172.2 207.0,171.6 C207.3,171.0 207.6,170.4 207.9,169.8 C208.2,169.3 208.5,168.7 208.9,168.1 C209.2,167.5 209.5,166.9 209.8,166.4 C210.1,165.8 210.4,165.2 210.7,164.6 C211.0,164.1 211.3,163.5 211.6,162.9 C212.0,162.3 212.3,161.7 212.6,161.2 C212.9,160.6 213.2,160.0 213.5,159.4 C213.8,158.9 214.2,158.3 214.5,157.7 C214.8,157.1 215.1,156.6 215.4,156.0 C215.8,155.4 216.1,154.9 216.4,154.3 C216.7,153.7 217.1,153.1 217.4,152.6 C217.7,152.0 218.1,151.4 218.4,150.9 C218.7,150.3 219.1,149.7 219.4,149.2 C219.7,148.6 220.1,148.0 220.4,147.5 C220.8,146.9 221.1,146.3 221.4,145.8 C221.8,145.2 222.1,144.7 222.5,144.1 C222.8,143.5 223.2,143.0 223.5,142.4 C223.9,141.9 224.3,141.3 224.6,140.7 C225.0,140.2 225.4,139.6 225.7,139.1 C226.1,138.5 226.5,138.0 226.8,137.4 C227.2,136.9 227.6,136.3 228.0,135.8 C228.4,135.2 228.7,134.7 229.1,134.1 C229.5,133.6 229.9,133.0 230.3,132.5 C230.7,131.9 231.1,131.4 231.5,130.9 C231.9,130.3 232.3,129.8 232.7,129.2 C233.1,128.7 233.6,128.2 234.0,127.6 C234.4,127.1 234.8,126.6 235.2,126.0 C235.7,125.5 236.1,125.0 236.5,124.4 C237.0,123.9 237.4,123.4 237.9,122.9 C238.3,122.3 238.8,121.8 239.2,121.3 C239.7,120.8 240.2,120.3 240.6,119.8 C241.1,119.3 241.6,118.8 242.0,118.3 C242.5,117.8 243.0,117.3 243.5,116.9 C244.0,116.4 244.5,115.9 245.0,115.5 C245.5,115.0 246.0,114.6 246.5,114.1 C247.0,113.7 247.5,113.3 248.0,112.9 C248.6,112.4 249.1,112.0 249.6,111.6 C250.2,111.2 250.7,110.9 251.3,110.5 C251.8,110.1 252.4,109.8 252.9,109.4 C253.5,109.1 254.1,108.8 254.6,108.4 C255.2,108.1 255.8,107.8 256.4,107.5 C257.0,107.3 257.6,107.0 258.2,106.7 C258.8,106.5 259.4,106.2 260.0,106.0 C260.6,105.8 261.2,105.6 261.9,105.4 C262.5,105.2 263.1,105.1 263.8,104.9 C264.4,104.8 265.1,104.7 265.7,104.6 C266.4,104.4 267.1,104.4 267.7,104.3 C268.4,104.2 269.0,104.2 269.7,104.2 C270.4,104.1 271.0,104.1 271.7,104.1 C272.4,104.2 273.0,104.2 273.7,104.3 C274.3,104.3 275.0,104.4 275.7,104.5 C276.3,104.6 277.0,104.8 277.6,104.9 C278.2,105.1 278.9,105.2 279.5,105.4 C280.1,105.6 280.8,105.9 281.4,106.1 C282.0,106.3 282.6,106.6 283.2,106.9 C283.8,107.2 284.4,107.5 285.0,107.8 C285.5,108.1 286.1,108.4 286.7,108.8 C287.2,109.1 287.8,109.5 288.3,109.9 C288.9,110.3 289.4,110.6 289.9,111.0 C290.4,111.5 291.0,111.9 291.4,112.3 C291.9,112.7 292.4,113.2 292.9,113.6 C293.4,114.0 293.9,114.5 294.3,115.0 C294.8,115.4 295.2,115.9 295.7,116.4 C296.1,116.9 296.5,117.4 296.9,117.9 C297.4,118.4 297.8,118.9 298.2,119.4 C298.6,120.0 299.0,120.5 299.4,121.0 C299.8,121.6 300.2,122.1 300.5,122.6 C300.9,123.2 301.3,123.7 301.6,124.3 C302.0,124.9 302.4,125.4 302.7,126.0 C303.1,126.6 303.4,127.2 303.8,127.7 C304.1,128.3 304.4,128.9 304.8,129.5 C305.1,130.1 305.4,130.7 305.8,131.3 C306.1,131.8 306.4,132.4 306.7,133.0 C307.0,133.6 307.4,134.2 307.7,134.8 C308.0,135.4 308.3,136.0 308.6,136.7 C308.9,137.3 309.2,137.9 309.5,138.5 C309.8,139.1 310.1,139.7 310.4,140.3 C310.7,140.9 311.0,141.5 311.3,142.1 C311.6,142.7 311.9,143.3 312.2,143.9 C312.4,144.5 312.7,145.1 313.0,145.7 C313.3,146.3 313.6,146.9 313.9,147.6 C314.2,148.2 314.4,148.8 314.7,149.4 C315.0,150.0 315.3,150.6 315.5,151.2 C315.8,151.8 316.1,152.4 316.4,153.0 C316.6,153.6 316.9,154.3 317.2,154.9 C317.4,155.5 317.7,156.1 318.0,156.7 C318.2,157.3 318.5,157.9 318.8,158.5 C319.0,159.2 319.3,159.8 319.6,160.4 C319.8,161.0 320.1,161.6 320.3,162.2 C320.6,162.8 320.8,163.4 321.1,164.1 C321.4,164.7 321.6,165.3 321.9,165.9 C322.1,166.5 322.4,167.1 322.6,167.7 C322.9,168.4 323.1,169.0 323.4,169.6 C323.6,170.2 323.9,170.8 324.1,171.4 C324.4,172.1 324.6,172.7 324.9,173.3 C325.1,173.9 325.3,174.5 325.6,175.1 C325.8,175.7 326.1,176.4 326.3,177.0 C326.6,177.6 326.8,178.2 327.0,178.8 C327.3,179.5 327.5,180.1 327.8,180.7 C328.0,181.3 328.2,181.9 328.5,182.5 C328.7,183.2 329.0,183.8 329.2,184.4 C329.4,185.0 329.7,185.6 329.9,186.3 C330.1,186.9 330.4,187.5 330.6,188.1 C330.9,188.7 331.1,189.3 331.3,190.0 C331.6,190.6 331.8,191.2 332.0,191.8 C332.3,192.4 332.5,193.1 332.7,193.7 C333.0,194.3 333.2,194.9 333.4,195.5 C333.7,196.2 333.9,196.8 334.1,197.4 C334.4,198.0 334.6,198.6 334.8,199.3 C335.1,199.9 335.3,200.5 335.6,201.1 C335.8,201.7 336.0,202.4 336.3,203.0 C336.5,203.6 336.7,204.2 337.0,204.9 C337.2,205.5 337.4,206.1 337.7,206.7 C337.9,207.3 338.2,208.0 338.4,208.6 C338.6,209.2 338.9,209.8 339.1,210.4 C339.3,211.1 339.6,211.7 339.8,212.3 C340.1,212.9 340.3,213.5 340.5,214.2 C340.8,214.8 341.0,215.4 341.3,216.0 C341.5,216.6 341.8,217.3 342.0,217.9 C342.2,218.5 342.5,219.1 342.7,219.8 C343.0,220.4 343.2,221.0 343.5,221.6 C343.7,222.2 344.0,222.9 344.2,223.5 C344.4,224.1 344.7,224.7 344.9,225.3 C345.2,226.0 345.4,226.6 345.7,227.2 C345.9,227.8 346.2,228.4 346.4,229.0 C346.7,229.7 346.9,230.3 347.2,230.9 C347.4,231.5 347.7,232.1 347.9,232.8 C348.2,233.4 348.4,234.0 348.7,234.6 C349.0,235.2 349.2,235.9 349.5,236.5 C349.7,237.1 350.0,237.7 350.2,238.3 C350.5,238.9 350.8,239.6 351.0,240.2 C351.3,240.8 351.5,241.4 351.8,242.0 C352.0,242.6 352.3,243.3 352.6,243.9 C352.8,244.5 353.1,245.1 353.4,245.7 C353.6,246.3 353.9,246.9 354.1,247.6 C354.4,248.2 354.7,248.8 354.9,249.4 C355.2,250.0 355.5,250.6 355.7,251.2 C356.0,251.9 356.3,252.5 356.6,253.1 C356.8,253.7 357.1,254.3 357.4,254.9 C357.6,255.5 357.9,256.1 358.2,256.7 C358.5,257.4 358.7,258.0 359.0,258.6 C359.3,259.2 359.6,259.8 359.8,260.4 C360.1,261.0 360.4,261.6 360.7,262.2 C360.9,262.8 361.2,263.4 361.5,264.1 C361.8,264.7 362.1,265.3 362.4,265.9 C362.6,266.5 362.9,267.1 363.2,267.7 C363.5,268.3 363.8,268.9 364.1,269.5 C364.3,270.1 364.6,270.7 364.9,271.3 C365.2,271.9 365.5,272.5 365.8,273.1 C366.1,273.7 366.4,274.3 366.7,274.9 C367.0,275.5 367.3,276.1 367.5,276.7 C367.8,277.3 368.1,277.9 368.4,278.5 C368.7,279.1 369.0,279.7 369.3,280.3 C369.6,280.9 369.9,281.5 370.2,282.1 C370.5,282.7 370.8,283.3 371.1,283.9 C371.4,284.5 371.8,285.1 372.1,285.7 C372.4,286.3 372.7,286.9 373.0,287.4 C373.3,288.0 373.6,288.6 373.9,289.2 C374.2,289.8 374.5,290.4 374.8,291.0 C375.2,291.6 375.5,292.2 375.8,292.8 C376.1,293.3 376.4,293.9 376.7,294.5 C377.1,295.1 377.4,295.7 377.7,296.3 C378.0,296.9 378.3,297.4 378.7,298.0 C379.0,298.6 379.3,299.2 379.6,299.8 C380.0,300.3 380.3,300.9 380.6,301.5 C381.0,302.1 381.3,302.7 381.6,303.2 C381.9,303.8 382.3,304.4 382.6,305.0 C382.9,305.6 383.3,306.1 383.6,306.7 C384.0,307.3 384.3,307.8 384.6,308.4 C385.0,309.0 385.3,309.6 385.7,310.1 C386.0,310.7 386.3,311.3 386.7,311.8 C387.0,312.4 387.4,313.0 387.7,313.6 C388.1,314.1 388.4,314.7 388.8,315.2 C389.1,315.8 389.5,316.4 389.8,316.9 C390.2,317.5 390.5,318.1 390.9,318.6 C391.2,319.2 391.6,319.7 392.0,320.3 C392.3,320.9 392.7,321.4 393.0,322.0 C393.4,322.5 393.8,323.1 394.1,323.7 C394.5,324.2 394.9,324.8 395.2,325.3 C395.6,325.9 396.0,326.4 396.4,327.0 C396.7,327.5 397.1,328.1 397.5,328.6 C397.8,329.2 398.2,329.7 398.6,330.3 C399.0,330.8 399.4,331.4 399.7,331.9 C400.1,332.4 400.5,333.0 400.9,333.5 C401.3,334.1 401.7,334.6 402.1,335.1 C402.4,335.7 402.8,336.2 403.2,336.8 C403.6,337.3 404.0,337.8 404.4,338.4 C404.8,338.9 405.2,339.4 405.6,340.0 C406.0,340.5 406.4,341.0 406.8,341.6 C407.2,342.1 407.6,342.6 408.0,343.2 C408.4,343.7 408.8,344.2 409.2,344.7 C409.6,345.3 410.0,345.8 410.4,346.3 C410.9,346.8 411.3,347.3 411.7,347.9 C412.1,348.4 412.5,348.9 413.0,349.4 C413.4,349.9 413.8,350.4 414.2,350.9 C414.6,351.4 415.1,352.0 415.5,352.5 C415.9,353.0 416.4,353.5 416.8,354.0 C417.2,354.5 417.7,355.0 418.1,355.5 C418.6,356.0 419.0,356.4 419.5,356.9 C419.9,357.4 420.3,357.9 420.8,358.4 C421.2,358.9 421.7,359.4 422.2,359.9 C422.6,360.3 423.1,360.8 423.5,361.3 C424.0,361.8 424.5,362.2 424.9,362.7 C425.4,363.2 425.9,363.6 426.4,364.1 C426.8,364.6 427.3,365.0 427.8,365.5 C428.3,365.9 428.7,366.4 429.2,366.8 C429.7,367.3 430.2,367.7 430.7,368.2 C431.2,368.6 431.7,369.1 432.2,369.5 C432.7,369.9 433.2,370.4 433.7,370.8 C434.2,371.2 434.7,371.6 435.2,372.1 C435.8,372.5 436.3,372.9 436.8,373.3 C437.3,373.7 437.9,374.1 438.4,374.5 C438.9,374.9 439.4,375.3 440.0,375.7 C440.5,376.1 441.1,376.5 441.6,376.9 C442.1,377.3 442.7,377.7 443.2,378.1 C443.8,378.5 444.4,378.8 444.9,379.2 C445.5,379.6 446.0,379.9 446.6,380.3 C447.2,380.7 447.7,381.1 448.3,381.4 C448.8,381.8 449.4,382.1 450.0,382.5 C450.6,382.9 451.1,383.2 451.7,383.6 C452.3,383.9 452.8,384.3 453.4,384.7 C454.0,385.0 454.5,385.4 455.1,385.7 C455.7,386.1 456.3,386.5 456.8,386.8 C457.4,387.2 458.0,387.5 458.5,387.9 C459.1,388.2 459.7,388.6 460.2,389.0 C460.8,389.3 461.4,389.7 461.9,390.1 C462.5,390.4 463.1,390.8 463.6,391.2 C464.2,391.5 464.7,391.9 465.3,392.3 C465.8,392.6 466.4,393.0 466.9,393.4 C467.5,393.8 468.0,394.2 468.6,394.5 C469.1,394.9 469.7,395.3 470.2,395.7 C470.8,396.0 471.3,396.4 471.8,396.8 C472.4,397.2 472.9,397.6 473.5,397.9 C474.0,398.3 474.6,398.7 475.1,399.1 C475.7,399.4 476.2,399.8 476.8,400.2 C477.3,400.6 477.8,400.9 478.4,401.3 C478.9,401.7 479.5,402.1 480.0,402.4 C480.6,402.8 481.1,403.1 481.7,403.5 C482.2,403.9 482.8,404.2 483.4,404.6 C483.9,405.0 484.5,405.3 485.0,405.7 C485.6,406.0 486.2,406.4 486.7,406.7 C487.3,407.1 487.8,407.4 488.4,407.8 C489.0,408.1 489.5,408.5 490.1,408.8 C490.7,409.1 491.2,409.5 491.8,409.8 C492.4,410.2 492.9,410.5 493.5,410.8 C494.1,411.2 494.7,411.5 495.2,411.8 C495.8,412.2 496.4,412.5 496.9,412.8 C497.5,413.2 498.1,413.5 498.7,413.8 C499.3,414.1 499.8,414.5 500.4,414.8 C501.0,415.1 501.6,415.4 502.2,415.7 C502.7,416.1 503.3,416.4 503.9,416.7 C504.5,417.0 505.1,417.3 505.7,417.6 C506.2,417.9 506.8,418.3 507.4,418.6 C508.0,418.9 508.6,419.2 509.2,419.5 C509.8,419.8 510.4,420.1 511.0,420.4 C511.6,420.7 512.1,421.0 512.7,421.3 C513.3,421.6 513.9,421.9 514.5,422.2 C515.1,422.5 515.7,422.8 516.3,423.1 C516.9,423.4 517.5,423.7 518.1,424.0 C518.7,424.3 519.3,424.5 519.9,424.8 C520.5,425.1 521.1,425.4 521.7,425.7 C522.3,426.0 522.9,426.3 523.5,426.6 C524.1,426.8 524.7,427.1 525.3,427.4 C525.9,427.7 526.5,428.0 527.1,428.3 C527.7,428.5 528.4,428.8 529.0,429.1 C529.6,429.4 530.2,429.6 530.8,429.9 C531.4,430.2 532.0,430.5 532.6,430.7 C533.2,431.0 533.8,431.3 534.4,431.6 C535.1,431.8 535.7,432.1 536.3,432.4 C536.9,432.6 537.5,432.9 538.1,433.2 C538.7,433.4 539.3,433.7 539.9,434.0 C540.6,434.2 541.2,434.5 541.8,434.8 C542.4,435.0 543.0,435.3 543.6,435.5 C544.3,435.8 544.9,436.1 545.5,436.3 C546.1,436.6 546.7,436.8 547.3,437.1 C547.9,437.4 548.6,437.6 549.2,437.9 C549.8,438.1 550.4,438.4 551.0,438.7 C551.7,438.9 552.3,439.2 552.9,439.4 C553.5,439.7 554.1,439.9 554.7,440.2 C555.4,440.4 556.0,440.7 556.6,440.9 C557.2,441.2 557.8,441.4 558.5,441.7 C559.1,441.9 559.7,442.2 560.3,442.4 C560.9,442.7 561.6,442.9 562.2,443.2 C562.8,443.4 563.4,443.7 564.0,443.9 C564.7,444.2 565.3,444.4 565.9,444.7 C566.5,444.9 567.2,445.2 567.8,445.4 C568.4,445.7 569.0,445.9 569.6,446.2 C570.3,446.4 570.9,446.6 571.5,446.9 C572.1,447.1 572.7,447.4 573.4,447.6 C574.0,447.9 574.6,448.1 575.2,448.4 C575.9,448.6 576.5,448.8 577.1,449.1 C577.7,449.3 578.3,449.6 579.0,449.8 C579.6,450.0 580.2,450.3 580.8,450.5 C581.5,450.7 582.1,451.0 582.7,451.2 C583.3,451.4 583.9,451.7 584.6,451.9 C585.2,452.1 585.8,452.4 586.4,452.6 C587.1,452.8 587.7,453.0 588.3,453.3 C588.9,453.5 589.6,453.7 590.2,453.9 C590.8,454.2 591.5,454.4 592.1,454.6 C592.7,454.8 593.3,455.0 594.0,455.2 C594.6,455.4 595.2,455.7 595.9,455.9 C596.5,456.1 597.1,456.3 597.7,456.5 C598.4,456.7 599.0,456.9 599.6,457.1 C600.3,457.3 600.9,457.5 601.5,457.7 C602.2,457.8 602.8,458.0 603.4,458.2 C604.1,458.4 604.7,458.6 605.4,458.8 C606.0,459.0 606.6,459.1 607.3,459.3 C607.9,459.5 608.5,459.6 609.2,459.8 C609.8,460.0 610.5,460.1 611.1,460.3 C611.7,460.5 612.4,460.6 613.0,460.8 C613.7,460.9 614.3,461.1 615.0,461.2 C615.6,461.4 616.3,461.5 616.9,461.6 C617.6,461.8 618.2,461.9 618.9,462.0 C619.5,462.2 620.2,462.3 620.8,462.4 C621.5,462.5 622.1,462.7 622.8,462.8 C623.4,462.9 624.1,463.0 624.7,463.1 C625.4,463.2 626.1,463.3 626.7,463.4 C627.4,463.5 628.0,463.6 628.7,463.7 C629.4,463.7 630.0,463.8 630.7,463.9 C631.3,464.0 632.0,464.0 632.7,464.1 C633.3,464.2 634.0,464.2 634.7,464.3 C635.4,464.3 636.0,464.4 636.7,464.4 C637.4,464.5 638.0,464.5 638.7,464.5 C639.4,464.6 640.1,464.6 640.8,464.6 C641.4,464.6 642.1,464.7 642.8,464.7 C643.5,464.7 644.2,464.7 644.8,464.7 C645.5,464.7 646.2,464.7 646.9,464.6 C647.6,464.6 648.3,464.6 649.0,464.6 C649.6,464.6 650.6,464.5 650.9,464.5" stroke="#0505e6"/>
<path d="M74.88,262.09 C75.2,262.4 76.0,263.2 76.5,263.7 C77.1,264.2 77.7,264.7 78.2,265.2 C78.8,265.7 79.4,266.1 79.9,266.5 C80.5,267.0 81.1,267.4 81.7,267.8 C82.2,268.2 82.8,268.6 83.4,268.9 C84.0,269.3 84.6,269.6 85.2,269.9 C85.8,270.3 86.4,270.6 87.0,270.9 C87.6,271.2 88.2,271.4 88.8,271.7 C89.4,271.9 90.0,272.2 90.6,272.4 C91.3,272.6 91.9,272.8 92.5,273.0 C93.1,273.2 93.7,273.4 94.4,273.5 C95.0,273.7 95.6,273.9 96.2,274.0 C96.9,274.1 97.5,274.2 98.1,274.4 C98.8,274.5 99.4,274.6 100.1,274.6 C100.7,274.7 101.3,274.8 102.0,274.8 C102.6,274.9 103.3,274.9 103.9,275.0 C104.6,275.0 105.2,275.0 105.9,275.0 C106.5,275.1 107.2,275.1 107.8,275.1 C108.5,275.0 109.1,275.0 109.8,275.0 C110.4,275.0 111.1,274.9 111.8,274.9 C112.4,274.8 113.1,274.8 113.7,274.7 C114.4,274.7 115.1,274.6 115.7,274.5 C116.4,274.4 117.0,274.4 117.7,274.3 C118.4,274.2 119.0,274.1 119.7,274.0 C120.4,273.9 121.0,273.8 121.7,273.6 C122.3,273.5 123.0,273.4 123.7,273.3 C124.3,273.1 125.0,273.0 125.7,272.9 C126.3,272.7 127.0,272.6 127.6,272.5 C128.3,272.3 129.0,272.2 129.6,272.0 C130.3,271.9 130.9,271.7 131.6,271.6 C132.3,271.4 132.9,271.3 133.6,271.1 C134.2,270.9 134.9,270.8 135.5,270.6 C136.2,270.5 136.8,270.3 137.5,270.1 C138.1,270.0 138.8,269.8 139.4,269.6 C140.1,269.5 140.7,269.3 141.4,269.1 C142.0,269.0 142.7,268.8 143.3,268.6 C144.0,268.5 144.6,268.3 145.2,268.1 C145.9,268.0 146.5,267.8 147.2,267.6 C147.8,267.4 148.4,267.3 149.1,267.1 C149.7,266.9 150.4,266.7 151.0,266.6 C151.6,266.4 152.3,266.2 152.9,266.0 C153.6,265.9 154.2,265.7 154.8,265.5 C155.5,265.3 156.1,265.1 156.7,265.0 C157.4,264.8 158.0,264.6 158.6,264.4 C159.3,264.2 159.9,264.0 160.5,263.9 C161.2,263.7 161.8,263.5 162.4,263.3 C163.1,263.1 163.7,262.9 164.3,262.7 C165.0,262.6 165.6,262.4 166.2,262.2 C166.9,262.0 167.5,261.8 168.1,261.6 C168.8,261.4 169.4,261.2 170.0,261.0 C170.7,260.9 171.3,260.7 171.9,260.5 C172.6,260.3 173.2,260.1 173.8,259.9 C174.4,259.7 175.1,259.5 175.7,259.3 C176.3,259.1 177.0,258.9 177.6,258.7 C178.3,258.5 178.9,258.3 179.5,258.1 C180.2,257.9 180.8,257.8 181.4,257.6 C182.1,257.4 182.7,257.2 183.3,257.0 C184.0,256.8 184.6,256.6 185.2,256.4 C185.9,256.2 186.5,256.0 187.2,255.8 C187.8,255.6 188.4,255.4 189.1,255.2 C189.7,255.0 190.4,254.8 191.0,254.6 C191.7,254.4 192.3,254.2 192.9,254.0 C193.6,253.8 194.2,253.6 194.9,253.4 C195.5,253.2 196.2,253.0 196.8,252.8 C197.5,252.6 198.1,252.3 198.8,252.1 C199.4,251.9 200.1,251.7 200.7,251.5 C201.4,251.3 202.0,251.1 202.7,250.9 C203.3,250.7 204.0,250.5 204.7,250.3 C205.3,250.2 206.0,250.0 206.6,249.8 C207.3,249.6 208.0,249.4 208.6,249.2 C209.3,249.0 209.9,248.9 210.6,248.7 C211.2,248.5 211.9,248.4 212.6,248.2 C213.2,248.1 213.9,247.9 214.5,247.8 C215.2,247.6 215.9,247.5 216.5,247.4 C217.2,247.2 217.8,247.1 218.5,247.0 C219.2,246.9 219.8,246.8 220.5,246.7 C221.1,246.6 221.8,246.5 222.4,246.5 C223.1,246.4 223.7,246.4 224.4,246.3 C225.1,246.3 225.7,246.2 226.4,246.2 C227.0,246.2 227.7,246.2 228.3,246.2 C229.0,246.2 229.6,246.2 230.3,246.3 C230.9,246.3 231.5,246.4 232.2,246.4 C232.8,246.5 233.5,246.6 234.1,246.7 C234.8,246.8 235.4,246.9 236.0,247.1 C236.7,247.2 237.3,247.4 237.9,247.5 C238.6,247.7 239.2,247.9 239.8,248.1 C240.5,248.3 241.1,248.6 241.7,248.8 C242.3,249.1 243.0,249.3 243.6,249.6 C244.2,249.8 244.8,250.1 245.5,250.3 C246.1,250.6 246.7,250.9 247.3,251.1 C248.0,251.4 248.6,251.6 249.2,251.8 C249.8,252.1 250.5,252.3 251.1,252.5 C251.7,252.7 252.4,252.9 253.0,253.1 C253.7,253.3 254.3,253.5 254.9,253.6 C255.6,253.8 256.2,253.9 256.9,254.1 C257.5,254.2 258.2,254.3 258.8,254.4 C259.5,254.5 260.1,254.6 260.8,254.6 C261.4,254.7 262.1,254.7 262.7,254.8 C263.4,254.8 264.1,254.8 264.7,254.8 C265.4,254.7 266.1,254.7 266.7,254.6 C267.4,254.6 268.1,254.5 268.7,254.4 C269.4,254.4 270.1,254.3 270.8,254.2 C271.4,254.1 272.1,254.0 272.8,253.9 C273.4,253.8 274.1,253.7 274.8,253.6 C275.4,253.5 276.1,253.4 276.8,253.3 C277.4,253.2 278.1,253.1 278.8,253.1 C279.4,253.0 280.1,252.9 280.7,252.9 C281.4,252.9 282.1,252.8 282.7,252.8 C283.4,252.8 284.0,252.8 284.7,252.8 C285.3,252.8 286.0,252.8 286.6,252.8 C287.3,252.8 287.9,252.8 288.6,252.8 C289.2,252.8 289.9,252.9 290.5,252.9 C291.2,252.9 291.8,253.0 292.5,253.0 C293.1,253.1 293.8,253.1 294.4,253.2 C295.1,253.2 295.8,253.3 296.4,253.3 C297.1,253.4 297.8,253.4 298.4,253.5 C299.1,253.5 299.8,253.6 300.4,253.6 C301.1,253.7 301.8,253.7 302.4,253.8 C303.1,253.9 303.8,253.9 304.5,254.0 C305.1,254.1 305.8,254.1 306.5,254.2 C307.2,254.3 307.8,254.3 308.5,254.4 C309.2,254.5 309.9,254.6 310.6,254.7 C311.2,254.8 311.9,254.9 312.6,255.0 C313.3,255.1 313.9,255.2 314.6,255.3 C315.3,255.4 316.0,255.5 316.6,255.6 C317.3,255.7 318.0,255.9 318.6,256.0 C319.3,256.1 319.9,256.3 320.6,256.4 C321.3,256.6 321.9,256.7 322.6,256.9 C323.2,257.1 323.9,257.2 324.5,257.4 C325.2,257.6 325.8,257.8 326.5,258.0 C327.1,258.2 327.7,258.4 328.4,258.6 C329.0,258.8 329.6,259.0 330.3,259.2 C330.9,259.5 331.5,259.7 332.1,259.9 C332.7,260.2 333.3,260.4 333.9,260.7 C334.5,261.0 335.1,261.3 335.7,261.5 C336.3,261.8 336.9,262.1 337.5,262.4 C338.0,262.7 338.6,263.1 339.2,263.4 C339.8,263.7 340.3,264.0 340.9,264.4 C341.5,264.7 342.0,265.0 342.6,265.4 C343.1,265.7 343.7,266.1 344.2,266.5 C344.8,266.8 345.3,267.2 345.9,267.6 C346.4,268.0 346.9,268.3 347.5,268.7 C348.0,269.1 348.5,269.5 349.1,269.9 C349.6,270.3 350.1,270.7 350.7,271.1 C351.2,271.5 351.7,271.9 352.2,272.3 C352.8,272.7 353.3,273.2 353.8,273.6 C354.3,274.0 354.8,274.4 355.3,274.8 C355.9,275.3 356.4,275.7 356.9,276.1 C357.4,276.5 357.9,277.0 358.4,277.4 C358.9,277.8 359.5,278.3 360.0,278.7 C360.5,279.1 361.0,279.6 361.5,280.0 C362.0,280.4 362.5,280.9 363.0,281.3 C363.6,281.7 364.1,282.1 364.6,282.6 C365.1,283.0 365.6,283.4 366.1,283.9 C366.6,284.3 367.2,284.7 367.7,285.1 C368.2,285.6 368.7,286.0 369.2,286.4 C369.8,286.8 370.3,287.2 370.8,287.7 C371.3,288.1 371.9,288.5 372.4,288.9 C372.9,289.3 373.4,289.7 374.0,290.1 C374.5,290.5 375.0,290.9 375.6,291.3 C376.1,291.7 376.6,292.1 377.2,292.5 C377.7,292.9 378.2,293.3 378.7,293.7 C379.3,294.1 379.8,294.5 380.3,294.9 C380.9,295.3 381.4,295.7 381.9,296.1 C382.5,296.5 383.0,296.9 383.5,297.3 C384.1,297.7 384.6,298.1 385.1,298.5 C385.7,298.9 386.2,299.3 386.7,299.7 C387.3,300.1 387.8,300.5 388.3,300.9 C388.9,301.3 389.4,301.7 389.9,302.1 C390.4,302.5 391.0,302.9 391.5,303.3 C392.0,303.7 392.6,304.1 393.1,304.5 C393.6,304.9 394.1,305.3 394.6,305.8 C395.2,306.2 395.7,306.6 396.2,307.0 C396.7,307.4 397.2,307.8 397.8,308.2 C398.3,308.7 398.8,309.1 399.3,309.5 C399.8,309.9 400.3,310.3 400.8,310.8 C401.3,311.2 401.8,311.6 402.4,312.1 C402.9,312.5 403.4,312.9 403.9,313.4 C404.4,313.8 404.9,314.2 405.4,314.7 C405.8,315.1 406.3,315.6 406.8,316.0 C407.3,316.5 407.8,316.9 408.3,317.4 C408.8,317.8 409.3,318.3 409.8,318.8 C410.3,319.2 410.7,319.7 411.2,320.1 C411.7,320.6 412.2,321.0 412.7,321.5 C413.2,321.9 413.7,322.4 414.2,322.8 C414.7,323.3 415.2,323.7 415.7,324.2 C416.1,324.6 416.6,325.1 417.1,325.5 C417.6,325.9 418.1,326.4 418.6,326.8 C419.2,327.2 419.7,327.7 420.2,328.1 C420.7,328.5 421.2,328.9 421.7,329.3 C422.2,329.8 422.8,330.2 423.3,330.6 C423.8,331.0 424.3,331.4 424.9,331.8 C425.4,332.2 425.9,332.6 426.4,333.0 C427.0,333.4 427.5,333.8 428.0,334.2 C428.6,334.5 429.1,334.9 429.7,335.3 C430.2,335.7 430.7,336.1 431.3,336.5 C431.8,336.9 432.3,337.3 432.9,337.6 C433.4,338.0 434.0,338.4 434.5,338.8 C435.0,339.2 435.6,339.6 436.1,339.9 C436.7,340.3 437.2,340.7 437.7,341.1 C438.3,341.5 438.8,341.9 439.4,342.3 C439.9,342.7 440.4,343.1 441.0,343.5 C441.5,343.9 442.0,344.3 442.6,344.7 C443.1,345.1 443.6,345.5 444.2,345.9 C444.7,346.3 445.2,346.7 445.7,347.1 C446.3,347.5 446.8,347.9 447.3,348.3 C447.8,348.7 448.4,349.1 448.9,349.6 C449.4,350.0 449.9,350.4 450.4,350.8 C451.0,351.2 451.5,351.6 452.0,352.1 C452.5,352.5 453.0,352.9 453.5,353.3 C454.1,353.8 454.6,354.2 455.1,354.6 C455.6,355.0 456.1,355.5 456.6,355.9 C457.1,356.3 457.7,356.7 458.2,357.2 C458.7,357.6 459.2,358.0 459.7,358.5 C460.2,358.9 460.7,359.3 461.2,359.8 C461.7,360.2 462.3,360.6 462.8,361.1 C463.3,361.5 463.8,361.9 464.3,362.4 C464.8,362.8 465.3,363.2 465.8,363.7 C466.3,364.1 466.8,364.5 467.3,365.0 C467.8,365.4 468.4,365.8 468.9,366.3 C469.4,366.7 469.9,367.1 470.4,367.6 C470.9,368.0 471.4,368.4 471.9,368.9 C472.4,369.3 472.9,369.7 473.4,370.2 C474.0,370.6 474.5,371.0 475.0,371.5 C475.5,371.9 476.0,372.3 476.5,372.8 C477.0,373.2 477.5,373.6 478.0,374.1 C478.6,374.5 479.1,374.9 479.6,375.3 C480.1,375.8 480.6,376.2 481.1,376.6 C481.6,377.0 482.2,377.5 482.7,377.9 C483.2,378.3 483.7,378.7 484.2,379.2 C484.7,379.6 485.3,380.0 485.8,380.4 C486.3,380.8 486.8,381.2 487.3,381.6 C487.9,382.1 488.4,382.5 488.9,382.9 C489.4,383.3 490.0,383.7 490.5,384.1 C491.0,384.5 491.5,384.9 492.1,385.3 C492.6,385.7 493.1,386.1 493.7,386.5 C494.2,386.9 494.7,387.3 495.3,387.7 C495.8,388.1 496.3,388.5 496.9,388.9 C497.4,389.3 498.0,389.6 498.5,390.0 C499.0,390.4 499.6,390.8 500.1,391.2 C500.7,391.5 501.2,391.9 501.8,392.3 C502.3,392.7 502.9,393.0 503.4,393.4 C504.0,393.8 504.5,394.1 505.1,394.5 C505.6,394.8 506.2,395.2 506.7,395.5 C507.3,395.9 507.9,396.2 508.4,396.6 C509.0,396.9 509.6,397.3 510.1,397.6 C510.7,398.0 511.3,398.3 511.8,398.6 C512.4,399.0 513.0,399.3 513.6,399.6 C514.1,399.9 514.7,400.2 515.3,400.6 C515.9,400.9 516.5,401.2 517.1,401.5 C517.7,401.8 518.2,402.1 518.8,402.4 C519.4,402.7 520.0,403.0 520.6,403.3 C521.2,403.6 521.8,403.9 522.4,404.2 C523.0,404.5 523.6,404.8 524.2,405.1 C524.8,405.4 525.4,405.6 526.0,405.9 C526.6,406.2 527.2,406.5 527.8,406.8 C528.4,407.0 529.0,407.3 529.7,407.6 C530.3,407.9 530.9,408.1 531.5,408.4 C532.1,408.7 532.7,408.9 533.3,409.2 C533.9,409.5 534.5,409.7 535.2,410.0 C535.8,410.3 536.4,410.6 537.0,410.8 C537.6,411.1 538.2,411.3 538.8,411.6 C539.4,411.9 540.1,412.1 540.7,412.4 C541.3,412.7 541.9,412.9 542.5,413.2 C543.1,413.5 543.7,413.7 544.4,414.0 C545.0,414.3 545.6,414.5 546.2,414.8 C546.8,415.1 547.4,415.3 548.0,415.6 C548.6,415.9 549.3,416.1 549.9,416.4 C550.5,416.7 551.1,417.0 551.7,417.2 C552.3,417.5 552.9,417.8 553.5,418.1 C554.1,418.3 554.7,418.6 555.3,418.9 C555.9,419.2 556.5,419.5 557.1,419.7 C557.7,420.0 558.3,420.3 559.0,420.6 C559.6,420.9 560.2,421.2 560.8,421.4 C561.4,421.7 562.0,422.0 562.6,422.3 C563.1,422.6 563.7,422.9 564.3,423.2 C564.9,423.5 565.5,423.8 566.1,424.1 C566.7,424.3 567.3,424.6 567.9,424.9 C568.5,425.2 569.1,425.5 569.7,425.8 C570.3,426.1 570.9,426.4 571.5,426.7 C572.1,427.0 572.7,427.3 573.3,427.6 C573.9,427.9 574.5,428.2 575.1,428.4 C575.7,428.7 576.3,429.0 576.9,429.3 C577.5,429.6 578.1,429.9 578.7,430.2 C579.3,430.5 579.8,430.8 580.4,431.1 C581.0,431.4 581.6,431.7 582.2,432.0 C582.8,432.3 583.4,432.5 584.0,432.8 C584.6,433.1 585.2,433.4 585.8,433.7 C586.4,434.0 587.0,434.3 587.6,434.6 C588.2,434.9 588.8,435.1 589.4,435.4 C590.0,435.7 590.6,436.0 591.2,436.3 C591.8,436.6 592.4,436.8 593.0,437.1 C593.7,437.4 594.3,437.7 594.9,438.0 C595.5,438.2 596.1,438.5 596.7,438.8 C597.3,439.1 597.9,439.3 598.5,439.6 C599.1,439.9 599.7,440.2 600.3,440.4 C600.9,440.7 601.6,441.0 602.2,441.2 C602.8,441.5 603.4,441.8 604.0,442.0 C604.6,442.3 605.2,442.6 605.8,442.8 C606.5,443.1 607.1,443.3 607.7,443.6 C608.3,443.9 608.9,444.1 609.5,444.4 C610.2,444.6 610.8,444.9 611.4,445.1 C612.0,445.4 612.6,445.6 613.2,445.9 C613.9,446.1 614.5,446.4 615.1,446.6 C615.7,446.8 616.3,447.1 617.0,447.3 C617.6,447.6 618.2,447.8 618.8,448.0 C619.5,448.3 620.1,448.5 620.7,448.7 C621.3,449.0 622.0,449.2 622.6,449.4 C623.2,449.6 623.9,449.9 624.5,450.1 C625.1,450.3 625.7,450.5 626.4,450.7 C627.0,450.9 627.6,451.2 628.3,451.4 C628.9,451.6 629.5,451.8 630.2,452.0 C630.8,452.2 631.4,452.4 632.1,452.6 C632.7,452.8 633.3,453.0 634.0,453.2 C634.6,453.4 635.3,453.6 635.9,453.8 C636.5,454.0 637.2,454.1 637.8,454.3 C638.5,454.5 639.1,454.7 639.7,454.9 C640.4,455.1 641.0,455.2 641.7,455.4 C642.3,455.6 643.0,455.7 643.6,455.9 C644.3,456.1 644.9,456.2 645.5,456.4 C646.2,456.6 646.8,456.7 647.5,456.9 C648.1,457.0 648.9,457.2 649.4,457.3 C650.0,457.4 650.5,457.6 650.7,457.6" stroke="#e48a40"/>
<path d="M74.99,281.93 C75.3,281.9 76.3,281.9 77.0,281.9 C77.7,282.0 78.3,282.0 79.0,282.0 C79.7,282.0 80.3,282.0 81.0,282.0 C81.7,282.0 82.3,282.0 83.0,282.0 C83.7,282.1 84.3,282.1 85.0,282.1 C85.7,282.1 86.3,282.1 87.0,282.1 C87.7,282.1 88.3,282.1 89.0,282.1 C89.7,282.2 90.3,282.2 91.0,282.2 C91.7,282.2 92.4,282.2 93.0,282.2 C93.7,282.2 94.4,282.2 95.0,282.2 C95.7,282.2 96.4,282.2 97.0,282.2 C97.7,282.1 98.4,282.1 99.0,282.1 C99.7,282.1 100.4,282.1 101.0,282.1 C101.7,282.0 102.3,282.0 103.0,282.0 C103.7,281.9 104.3,281.9 105.0,281.9 C105.7,281.8 106.3,281.8 107.0,281.7 C107.6,281.7 108.3,281.6 109.0,281.6 C109.6,281.5 110.3,281.4 110.9,281.4 C111.6,281.3 112.3,281.2 112.9,281.1 C113.6,281.1 114.2,281.0 114.9,280.9 C115.5,280.8 116.2,280.7 116.9,280.6 C117.5,280.5 118.2,280.4 118.8,280.3 C119.5,280.2 120.1,280.0 120.8,279.9 C121.4,279.8 122.1,279.7 122.7,279.6 C123.4,279.4 124.0,279.3 124.7,279.2 C125.3,279.0 126.0,278.9 126.6,278.8 C127.3,278.6 128.0,278.5 128.6,278.3 C129.3,278.2 129.9,278.1 130.6,277.9 C131.2,277.8 131.9,277.6 132.5,277.5 C133.2,277.3 133.8,277.2 134.5,277.0 C135.1,276.9 135.8,276.7 136.4,276.6 C137.1,276.4 137.7,276.3 138.4,276.1 C139.0,275.9 139.7,275.8 140.3,275.6 C141.0,275.5 141.6,275.3 142.3,275.2 C142.9,275.0 143.6,274.8 144.2,274.7 C144.9,274.5 145.5,274.4 146.2,274.2 C146.8,274.0 147.5,273.9 148.1,273.7 C148.8,273.6 149.4,273.4 150.1,273.2 C150.7,273.1 151.4,272.9 152.0,272.8 C152.7,272.6 153.3,272.4 154.0,272.3 C154.6,272.1 155.3,272.0 155.9,271.8 C156.6,271.6 157.2,271.5 157.9,271.3 C158.5,271.1 159.2,271.0 159.8,270.8 C160.5,270.7 161.1,270.5 161.8,270.3 C162.4,270.2 163.1,270.0 163.7,269.9 C164.4,269.7 165.0,269.6 165.7,269.4 C166.3,269.2 167.0,269.1 167.6,268.9 C168.3,268.8 168.9,268.6 169.6,268.5 C170.2,268.3 170.9,268.2 171.5,268.0 C172.2,267.9 172.8,267.7 173.5,267.6 C174.1,267.4 174.8,267.3 175.4,267.1 C176.1,267.0 176.7,266.8 177.4,266.7 C178.0,266.5 178.7,266.4 179.3,266.3 C180.0,266.1 180.6,266.0 181.3,265.8 C181.9,265.7 182.6,265.6 183.3,265.4 C183.9,265.3 184.6,265.2 185.2,265.0 C185.9,264.9 186.5,264.8 187.2,264.6 C187.8,264.5 188.5,264.4 189.1,264.3 C189.8,264.1 190.4,264.0 191.1,263.9 C191.7,263.8 192.4,263.7 193.1,263.5 C193.7,263.4 194.4,263.3 195.0,263.2 C195.7,263.1 196.3,263.0 197.0,262.9 C197.6,262.8 198.3,262.7 198.9,262.6 C199.6,262.5 200.3,262.4 200.9,262.3 C201.6,262.2 202.2,262.1 202.9,262.0 C203.5,261.9 204.2,261.8 204.8,261.8 C205.5,261.7 206.2,261.6 206.8,261.5 C207.5,261.4 208.1,261.4 208.8,261.3 C209.4,261.2 210.1,261.2 210.8,261.1 C211.4,261.0 212.1,261.0 212.7,260.9 C213.4,260.8 214.0,260.8 214.7,260.7 C215.4,260.7 216.0,260.6 216.7,260.6 C217.3,260.6 218.0,260.5 218.7,260.5 C219.3,260.4 220.0,260.4 220.6,260.4 C221.3,260.4 222.0,260.3 222.6,260.3 C223.3,260.3 223.9,260.3 224.6,260.3 C225.3,260.2 225.9,260.2 226.6,260.2 C227.2,260.2 227.9,260.2 228.6,260.2 C229.2,260.2 229.9,260.2 230.6,260.2 C231.2,260.3 231.9,260.3 232.5,260.3 C233.2,260.3 233.9,260.3 234.5,260.4 C235.2,260.4 235.9,260.4 236.5,260.5 C237.2,260.5 237.9,260.6 238.5,260.6 C239.2,260.6 239.8,260.7 240.5,260.8 C241.2,260.8 241.8,260.9 242.5,260.9 C243.2,261.0 243.8,261.1 244.5,261.1 C245.2,261.2 245.8,261.3 246.5,261.4 C247.1,261.4 247.8,261.5 248.5,261.6 C249.1,261.7 249.8,261.8 250.5,261.9 C251.1,262.0 251.8,262.1 252.4,262.2 C253.1,262.3 253.8,262.4 254.4,262.5 C255.1,262.6 255.7,262.7 256.4,262.9 C257.1,263.0 257.7,263.1 258.4,263.2 C259.0,263.4 259.7,263.5 260.4,263.6 C261.0,263.8 261.7,263.9 262.3,264.0 C263.0,264.2 263.6,264.3 264.3,264.5 C264.9,264.6 265.6,264.8 266.2,264.9 C266.9,265.1 267.6,265.3 268.2,265.4 C268.9,265.6 269.5,265.8 270.2,265.9 C270.8,266.1 271.4,266.3 272.1,266.5 C272.7,266.6 273.4,266.8 274.0,267.0 C274.7,267.2 275.3,267.4 276.0,267.6 C276.6,267.8 277.2,268.0 277.9,268.2 C278.5,268.4 279.2,268.6 279.8,268.8 C280.4,269.0 281.1,269.2 281.7,269.4 C282.4,269.7 283.0,269.9 283.6,270.1 C284.3,270.3 284.9,270.5 285.5,270.8 C286.1,271.0 286.8,271.2 287.4,271.5 C288.0,271.7 288.7,272.0 289.3,272.2 C289.9,272.4 290.5,272.7 291.1,272.9 C291.8,273.2 292.4,273.4 293.0,273.7 C293.6,274.0 294.2,274.2 294.8,274.5 C295.5,274.7 296.1,275.0 296.7,275.3 C297.3,275.5 297.9,275.8 298.5,276.1 C299.1,276.4 299.7,276.6 300.3,276.9 C300.9,277.2 301.5,277.5 302.1,277.8 C302.7,278.1 303.3,278.4 303.9,278.7 C304.5,279.0 305.1,279.3 305.7,279.6 C306.3,279.9 306.9,280.2 307.5,280.5 C308.1,280.8 308.6,281.1 309.2,281.4 C309.8,281.7 310.4,282.0 311.0,282.3 C311.6,282.7 312.1,283.0 312.7,283.3 C313.3,283.6 313.9,284.0 314.4,284.3 C315.0,284.6 315.6,285.0 316.1,285.3 C316.7,285.6 317.3,286.0 317.8,286.3 C318.4,286.6 319.0,287.0 319.5,287.3 C320.1,287.7 320.7,288.0 321.2,288.4 C321.8,288.7 322.3,289.1 322.9,289.4 C323.5,289.8 324.0,290.1 324.6,290.5 C325.1,290.8 325.7,291.2 326.2,291.6 C326.8,291.9 327.3,292.3 327.9,292.7 C328.4,293.0 329.0,293.4 329.5,293.8 C330.1,294.1 330.6,294.5 331.2,294.9 C331.7,295.2 332.3,295.6 332.8,296.0 C333.4,296.4 333.9,296.7 334.5,297.1 C335.0,297.5 335.6,297.9 336.1,298.3 C336.6,298.6 337.2,299.0 337.7,299.4 C338.3,299.8 338.8,300.2 339.3,300.6 C339.9,301.0 340.4,301.3 341.0,301.7 C341.5,302.1 342.0,302.5 342.6,302.9 C343.1,303.3 343.7,303.7 344.2,304.1 C344.7,304.5 345.3,304.9 345.8,305.3 C346.4,305.7 346.9,306.1 347.4,306.5 C348.0,306.9 348.5,307.3 349.0,307.7 C349.6,308.1 350.1,308.5 350.6,308.9 C351.2,309.3 351.7,309.7 352.2,310.1 C352.8,310.5 353.3,310.9 353.8,311.3 C354.4,311.7 354.9,312.1 355.4,312.5 C356.0,312.9 356.5,313.3 357.0,313.8 C357.5,314.2 358.1,314.6 358.6,315.0 C359.1,315.4 359.6,315.8 360.2,316.2 C360.7,316.7 361.2,317.1 361.7,317.5 C362.2,317.9 362.8,318.3 363.3,318.8 C363.8,319.2 364.3,319.6 364.8,320.0 C365.3,320.4 365.9,320.9 366.4,321.3 C366.9,321.7 367.4,322.1 367.9,322.6 C368.4,323.0 368.9,323.4 369.5,323.8 C370.0,324.3 370.5,324.7 371.0,325.1 C371.5,325.6 372.0,326.0 372.5,326.4 C373.0,326.8 373.6,327.3 374.1,327.7 C374.6,328.1 375.1,328.5 375.6,329.0 C376.1,329.4 376.6,329.8 377.1,330.2 C377.7,330.7 378.2,331.1 378.7,331.5 C379.2,331.9 379.7,332.4 380.2,332.8 C380.7,333.2 381.2,333.6 381.8,334.1 C382.3,334.5 382.8,334.9 383.3,335.3 C383.8,335.7 384.3,336.2 384.9,336.6 C385.4,337.0 385.9,337.4 386.4,337.8 C386.9,338.3 387.4,338.7 388.0,339.1 C388.5,339.5 389.0,339.9 389.5,340.4 C390.0,340.8 390.5,341.2 391.1,341.6 C391.6,342.0 392.1,342.4 392.6,342.9 C393.1,343.3 393.7,343.7 394.2,344.1 C394.7,344.5 395.2,344.9 395.7,345.3 C396.3,345.8 396.8,346.2 397.3,346.6 C397.8,347.0 398.4,347.4 398.9,347.8 C399.4,348.2 399.9,348.6 400.4,349.1 C401.0,349.5 401.5,349.9 402.0,350.3 C402.5,350.7 403.1,351.1 403.6,351.5 C404.1,351.9 404.6,352.3 405.2,352.7 C405.7,353.1 406.2,353.5 406.7,354.0 C407.3,354.4 407.8,354.8 408.3,355.2 C408.9,355.6 409.4,356.0 409.9,356.4 C410.4,356.8 411.0,357.2 411.5,357.6 C412.0,358.0 412.6,358.4 413.1,358.8 C413.6,359.2 414.1,359.6 414.7,360.0 C415.2,360.4 415.7,360.8 416.3,361.2 C416.8,361.6 417.3,362.0 417.9,362.4 C418.4,362.8 418.9,363.2 419.5,363.6 C420.0,364.0 420.5,364.4 421.1,364.8 C421.6,365.2 422.1,365.6 422.7,366.0 C423.2,366.4 423.8,366.8 424.3,367.1 C424.8,367.5 425.4,367.9 425.9,368.3 C426.4,368.7 427.0,369.1 427.5,369.5 C428.1,369.9 428.6,370.3 429.1,370.7 C429.7,371.0 430.2,371.4 430.8,371.8 C431.3,372.2 431.9,372.6 432.4,373.0 C432.9,373.4 433.5,373.8 434.0,374.1 C434.6,374.5 435.1,374.9 435.7,375.3 C436.2,375.7 436.7,376.1 437.3,376.4 C437.8,376.8 438.4,377.2 438.9,377.6 C439.5,378.0 440.0,378.3 440.6,378.7 C441.1,379.1 441.7,379.5 442.2,379.9 C442.8,380.2 443.3,380.6 443.9,381.0 C444.4,381.4 445.0,381.7 445.5,382.1 C446.1,382.5 446.6,382.9 447.2,383.2 C447.7,383.6 448.3,384.0 448.9,384.3 C449.4,384.7 450.0,385.1 450.5,385.5 C451.1,385.8 451.6,386.2 452.2,386.6 C452.7,386.9 453.3,387.3 453.9,387.7 C454.4,388.0 455.0,388.4 455.5,388.8 C456.1,389.1 456.7,389.5 457.2,389.8 C457.8,390.2 458.3,390.6 458.9,390.9 C459.5,391.3 460.0,391.7 460.6,392.0 C461.2,392.4 461.7,392.7 462.3,393.1 C462.8,393.4 463.4,393.8 464.0,394.1 C464.5,394.5 465.1,394.9 465.7,395.2 C466.2,395.6 466.8,395.9 467.4,396.3 C468.0,396.6 468.5,397.0 469.1,397.3 C469.7,397.7 470.2,398.0 470.8,398.3 C471.4,398.7 471.9,399.0 472.5,399.4 C473.1,399.7 473.7,400.1 474.2,400.4 C474.8,400.7 475.4,401.1 476.0,401.4 C476.5,401.8 477.1,402.1 477.7,402.4 C478.3,402.8 478.8,403.1 479.4,403.4 C480.0,403.8 480.6,404.1 481.2,404.4 C481.7,404.8 482.3,405.1 482.9,405.4 C483.5,405.8 484.1,406.1 484.6,406.4 C485.2,406.7 485.8,407.1 486.4,407.4 C487.0,407.7 487.5,408.0 488.1,408.3 C488.7,408.7 489.3,409.0 489.9,409.3 C490.5,409.6 491.1,409.9 491.6,410.3 C492.2,410.6 492.8,410.9 493.4,411.2 C494.0,411.5 494.6,411.8 495.2,412.1 C495.8,412.4 496.4,412.7 497.0,413.1 C497.5,413.4 498.1,413.7 498.7,414.0 C499.3,414.3 499.9,414.6 500.5,414.9 C501.1,415.2 501.7,415.5 502.3,415.8 C502.9,416.1 503.5,416.4 504.1,416.7 C504.7,417.0 505.3,417.2 505.9,417.5 C506.5,417.8 507.1,418.1 507.7,418.4 C508.3,418.7 508.9,419.0 509.5,419.3 C510.1,419.6 510.7,419.8 511.3,420.1 C511.9,420.4 512.5,420.7 513.1,421.0 C513.7,421.2 514.3,421.5 514.9,421.8 C515.5,422.1 516.1,422.3 516.7,422.6 C517.3,422.9 517.9,423.2 518.5,423.4 C519.2,423.7 519.8,424.0 520.4,424.2 C521.0,424.5 521.6,424.8 522.2,425.0 C522.8,425.3 523.4,425.6 524.0,425.8 C524.6,426.1 525.3,426.4 525.9,426.6 C526.5,426.9 527.1,427.1 527.7,427.4 C528.3,427.7 528.9,427.9 529.5,428.2 C530.2,428.4 530.8,428.7 531.4,428.9 C532.0,429.2 532.6,429.4 533.2,429.7 C533.9,429.9 534.5,430.2 535.1,430.4 C535.7,430.7 536.3,430.9 536.9,431.2 C537.6,431.4 538.2,431.7 538.8,431.9 C539.4,432.2 540.0,432.4 540.7,432.7 C541.3,432.9 541.9,433.1 542.5,433.4 C543.1,433.6 543.8,433.9 544.4,434.1 C545.0,434.4 545.6,434.6 546.3,434.8 C546.9,435.1 547.5,435.3 548.1,435.5 C548.7,435.8 549.4,436.0 550.0,436.2 C550.6,436.5 551.2,436.7 551.9,436.9 C552.5,437.2 553.1,437.4 553.7,437.6 C554.4,437.9 555.0,438.1 555.6,438.3 C556.2,438.6 556.9,438.8 557.5,439.0 C558.1,439.2 558.7,439.5 559.4,439.7 C560.0,439.9 560.6,440.2 561.3,440.4 C561.9,440.6 562.5,440.8 563.1,441.1 C563.8,441.3 564.4,441.5 565.0,441.7 C565.6,442.0 566.3,442.2 566.9,442.4 C567.5,442.6 568.2,442.8 568.8,443.1 C569.4,443.3 570.0,443.5 570.7,443.7 C571.3,443.9 571.9,444.2 572.6,444.4 C573.2,444.6 573.8,444.8 574.5,445.0 C575.1,445.3 575.7,445.5 576.3,445.7 C577.0,445.9 577.6,446.1 578.2,446.4 C578.9,446.6 579.5,446.8 580.1,447.0 C580.8,447.2 581.4,447.4 582.0,447.7 C582.7,447.9 583.3,448.1 583.9,448.3 C584.5,448.5 585.2,448.7 585.8,448.9 C586.4,449.2 587.1,449.4 587.7,449.6 C588.3,449.8 589.0,450.0 589.6,450.2 C590.2,450.4 590.9,450.6 591.5,450.8 C592.1,451.1 592.8,451.3 593.4,451.5 C594.0,451.7 594.7,451.9 595.3,452.1 C595.9,452.3 596.6,452.5 597.2,452.7 C597.8,452.9 598.5,453.1 599.1,453.3 C599.7,453.5 600.4,453.7 601.0,453.9 C601.7,454.1 602.3,454.3 602.9,454.5 C603.6,454.7 604.2,454.9 604.8,455.0 C605.5,455.2 606.1,455.4 606.8,455.6 C607.4,455.8 608.0,456.0 608.7,456.2 C609.3,456.3 610.0,456.5 610.6,456.7 C611.2,456.9 611.9,457.0 612.5,457.2 C613.2,457.4 613.8,457.6 614.4,457.7 C615.1,457.9 615.7,458.1 616.4,458.2 C617.0,458.4 617.7,458.6 618.3,458.7 C619.0,458.9 619.6,459.0 620.3,459.2 C620.9,459.4 621.5,459.5 622.2,459.7 C622.8,459.8 623.5,460.0 624.1,460.1 C624.8,460.2 625.4,460.4 626.1,460.5 C626.7,460.7 627.4,460.8 628.0,460.9 C628.7,461.1 629.4,461.2 630.0,461.3 C630.7,461.5 631.3,461.6 632.0,461.7 C632.6,461.8 633.3,461.9 633.9,462.1 C634.6,462.2 635.3,462.3 635.9,462.4 C636.6,462.5 637.2,462.6 637.9,462.7 C638.5,462.8 639.2,462.9 639.9,463.0 C640.5,463.1 641.2,463.2 641.9,463.3 C642.5,463.4 643.2,463.5 643.9,463.5 C644.5,463.6 645.2,463.7 645.9,463.8 C646.5,463.8 647.2,463.9 647.9,464.0 C648.5,464.0 649.4,464.1 649.9,464.2 C650.4,464.2 650.6,464.2 650.8,464.2" stroke="#861e28"/>
<path d="M75.52,255.17 C75.8,255.3 76.6,255.8 77.1,256.1 C77.7,256.4 78.2,256.7 78.8,257.0 C79.3,257.3 79.9,257.6 80.4,257.9 C81.0,258.2 81.5,258.5 82.1,258.8 C82.7,259.1 83.2,259.4 83.8,259.7 C84.4,260.0 84.9,260.3 85.5,260.6 C86.1,260.9 86.7,261.1 87.3,261.4 C87.9,261.7 88.5,262.0 89.0,262.3 C89.6,262.6 90.2,262.9 90.8,263.1 C91.4,263.4 92.0,263.7 92.7,264.0 C93.3,264.2 93.9,264.5 94.5,264.8 C95.1,265.1 95.7,265.3 96.3,265.6 C96.9,265.9 97.6,266.1 98.2,266.4 C98.8,266.6 99.4,266.9 100.1,267.1 C100.7,267.4 101.3,267.6 102.0,267.9 C102.6,268.1 103.2,268.4 103.9,268.6 C104.5,268.8 105.2,269.1 105.8,269.3 C106.4,269.5 107.1,269.8 107.7,270.0 C108.4,270.2 109.0,270.4 109.7,270.6 C110.3,270.8 111.0,271.0 111.6,271.3 C112.3,271.5 112.9,271.7 113.6,271.8 C114.2,272.0 114.9,272.2 115.6,272.4 C116.2,272.6 116.9,272.8 117.5,273.0 C118.2,273.1 118.9,273.3 119.5,273.5 C120.2,273.6 120.8,273.8 121.5,273.9 C122.2,274.1 122.8,274.3 123.5,274.4 C124.2,274.5 124.8,274.7 125.5,274.8 C126.2,274.9 126.8,275.1 127.5,275.2 C128.2,275.3 128.8,275.4 129.5,275.5 C130.2,275.6 130.8,275.7 131.5,275.8 C132.2,275.9 132.8,276.0 133.5,276.1 C134.2,276.2 134.8,276.2 135.5,276.3 C136.2,276.4 136.8,276.4 137.5,276.5 C138.2,276.5 138.8,276.6 139.5,276.6 C140.2,276.7 140.8,276.7 141.5,276.7 C142.1,276.7 142.8,276.8 143.5,276.8 C144.1,276.8 144.8,276.8 145.5,276.8 C146.1,276.8 146.8,276.8 147.4,276.7 C148.1,276.7 148.7,276.7 149.4,276.6 C150.0,276.6 150.7,276.6 151.4,276.5 C152.0,276.4 152.7,276.4 153.3,276.3 C153.9,276.2 154.6,276.2 155.2,276.1 C155.9,276.0 156.5,275.9 157.2,275.8 C157.8,275.7 158.4,275.6 159.1,275.4 C159.7,275.3 160.4,275.2 161.0,275.1 C161.6,274.9 162.3,274.8 162.9,274.6 C163.5,274.5 164.2,274.3 164.8,274.2 C165.4,274.0 166.1,273.8 166.7,273.7 C167.3,273.5 167.9,273.3 168.6,273.1 C169.2,272.9 169.8,272.7 170.4,272.5 C171.1,272.3 171.7,272.1 172.3,271.9 C172.9,271.7 173.5,271.5 174.2,271.3 C174.8,271.1 175.4,270.8 176.0,270.6 C176.6,270.4 177.3,270.1 177.9,269.9 C178.5,269.7 179.1,269.4 179.7,269.2 C180.3,268.9 180.9,268.7 181.6,268.4 C182.2,268.2 182.8,267.9 183.4,267.7 C184.0,267.4 184.6,267.1 185.2,266.9 C185.8,266.6 186.5,266.3 187.1,266.1 C187.7,265.8 188.3,265.5 188.9,265.2 C189.5,265.0 190.1,264.7 190.7,264.4 C191.3,264.1 192.0,263.8 192.6,263.5 C193.2,263.3 193.8,263.0 194.4,262.7 C195.0,262.4 195.6,262.1 196.2,261.8 C196.8,261.5 197.4,261.2 198.0,260.9 C198.6,260.7 199.3,260.4 199.9,260.1 C200.5,259.8 201.1,259.5 201.7,259.2 C202.3,258.9 202.9,258.6 203.5,258.3 C204.1,258.0 204.7,257.7 205.4,257.4 C206.0,257.2 206.6,256.9 207.2,256.6 C207.8,256.3 208.4,256.0 209.0,255.7 C209.6,255.4 210.2,255.1 210.9,254.9 C211.5,254.6 212.1,254.3 212.7,254.0 C213.3,253.7 213.9,253.4 214.5,253.2 C215.2,252.9 215.8,252.6 216.4,252.4 C217.0,252.1 217.6,251.8 218.2,251.5 C218.9,251.3 219.5,251.0 220.1,250.8 C220.7,250.5 221.3,250.2 222.0,250.0 C222.6,249.7 223.2,249.5 223.8,249.3 C224.5,249.0 225.1,248.8 225.7,248.5 C226.3,248.3 227.0,248.1 227.6,247.8 C228.2,247.6 228.9,247.4 229.5,247.2 C230.1,247.0 230.7,246.7 231.4,246.5 C232.0,246.3 232.6,246.1 233.3,245.9 C233.9,245.7 234.6,245.5 235.2,245.3 C235.8,245.2 236.5,245.0 237.1,244.8 C237.8,244.6 238.4,244.5 239.0,244.3 C239.7,244.1 240.3,244.0 241.0,243.8 C241.6,243.6 242.3,243.5 242.9,243.3 C243.6,243.2 244.2,243.1 244.9,242.9 C245.5,242.8 246.2,242.6 246.8,242.5 C247.5,242.4 248.1,242.3 248.8,242.2 C249.4,242.0 250.1,241.9 250.7,241.8 C251.4,241.7 252.0,241.6 252.7,241.5 C253.3,241.4 254.0,241.3 254.6,241.2 C255.3,241.1 256.0,241.1 256.6,241.0 C257.3,240.9 257.9,240.8 258.6,240.8 C259.2,240.7 259.9,240.6 260.6,240.6 C261.2,240.5 261.9,240.5 262.5,240.4 C263.2,240.4 263.9,240.3 264.5,240.3 C265.2,240.2 265.9,240.2 266.5,240.2 C267.2,240.1 267.8,240.1 268.5,240.1 C269.2,240.1 269.8,240.1 270.5,240.0 C271.1,240.0 271.8,240.0 272.5,240.0 C273.1,240.0 273.8,240.0 274.5,240.0 C275.1,240.0 275.8,240.0 276.4,240.1 C277.1,240.1 277.8,240.1 278.4,240.1 C279.1,240.2 279.8,240.2 280.4,240.2 C281.1,240.3 281.7,240.3 282.4,240.3 C283.1,240.4 283.7,240.4 284.4,240.5 C285.1,240.5 285.7,240.6 286.4,240.7 C287.0,240.7 287.7,240.8 288.4,240.9 C289.0,240.9 289.7,241.0 290.3,241.1 C291.0,241.2 291.7,241.3 292.3,241.3 C293.0,241.4 293.6,241.5 294.3,241.6 C295.0,241.7 295.6,241.8 296.3,242.0 C296.9,242.1 297.6,242.2 298.2,242.3 C298.9,242.4 299.5,242.6 300.2,242.7 C300.8,242.9 301.5,243.1 302.1,243.3 C302.7,243.4 303.3,243.6 304.0,243.9 C304.6,244.1 305.2,244.3 305.8,244.6 C306.4,244.8 307.0,245.1 307.6,245.4 C308.2,245.6 308.8,245.9 309.4,246.2 C310.0,246.6 310.6,246.9 311.1,247.2 C311.7,247.5 312.3,247.9 312.9,248.2 C313.4,248.6 314.0,248.9 314.6,249.3 C315.1,249.7 315.7,250.0 316.3,250.4 C316.8,250.8 317.4,251.1 317.9,251.5 C318.5,251.9 319.1,252.3 319.6,252.7 C320.2,253.1 320.7,253.4 321.3,253.8 C321.8,254.2 322.4,254.6 322.9,255.0 C323.5,255.4 324.0,255.8 324.6,256.1 C325.1,256.5 325.7,256.9 326.2,257.3 C326.8,257.7 327.3,258.1 327.9,258.5 C328.4,258.8 329.0,259.2 329.5,259.6 C330.1,260.0 330.6,260.4 331.2,260.8 C331.7,261.2 332.3,261.5 332.8,261.9 C333.3,262.3 333.9,262.7 334.4,263.1 C335.0,263.5 335.5,263.9 336.1,264.2 C336.6,264.6 337.2,265.0 337.7,265.4 C338.2,265.8 338.8,266.2 339.3,266.6 C339.9,267.0 340.4,267.3 340.9,267.7 C341.5,268.1 342.0,268.5 342.6,268.9 C343.1,269.3 343.6,269.7 344.2,270.1 C344.7,270.4 345.3,270.8 345.8,271.2 C346.3,271.6 346.9,272.0 347.4,272.4 C348.0,272.8 348.5,273.2 349.0,273.6 C349.6,273.9 350.1,274.3 350.7,274.7 C351.2,275.1 351.7,275.5 352.3,275.9 C352.8,276.3 353.4,276.7 353.9,277.1 C354.4,277.4 355.0,277.8 355.5,278.2 C356.0,278.6 356.6,279.0 357.1,279.4 C357.7,279.8 358.2,280.2 358.7,280.6 C359.3,280.9 359.8,281.3 360.4,281.7 C360.9,282.1 361.4,282.5 362.0,282.9 C362.5,283.3 363.1,283.7 363.6,284.1 C364.1,284.4 364.7,284.8 365.2,285.2 C365.8,285.6 366.3,286.0 366.8,286.4 C367.4,286.8 367.9,287.2 368.5,287.6 C369.0,287.9 369.5,288.3 370.1,288.7 C370.6,289.1 371.2,289.5 371.7,289.9 C372.2,290.3 372.8,290.7 373.3,291.1 C373.9,291.5 374.4,291.9 374.9,292.2 C375.5,292.6 376.0,293.0 376.6,293.4 C377.1,293.8 377.6,294.2 378.2,294.6 C378.7,295.0 379.2,295.4 379.8,295.8 C380.3,296.2 380.9,296.6 381.4,297.0 C381.9,297.3 382.5,297.7 383.0,298.1 C383.6,298.5 384.1,298.9 384.6,299.3 C385.2,299.7 385.7,300.1 386.3,300.5 C386.8,300.9 387.3,301.3 387.9,301.7 C388.4,302.1 388.9,302.5 389.5,302.9 C390.0,303.3 390.6,303.7 391.1,304.1 C391.6,304.4 392.2,304.8 392.7,305.2 C393.2,305.6 393.8,306.0 394.3,306.4 C394.8,306.8 395.4,307.2 395.9,307.6 C396.5,308.0 397.0,308.4 397.5,308.8 C398.1,309.2 398.6,309.6 399.1,310.0 C399.7,310.4 400.2,310.8 400.7,311.2 C401.3,311.6 401.8,312.0 402.3,312.4 C402.9,312.8 403.4,313.2 403.9,313.6 C404.5,314.0 405.0,314.4 405.5,314.9 C406.0,315.3 406.6,315.7 407.1,316.1 C407.6,316.5 408.2,316.9 408.7,317.3 C409.2,317.7 409.8,318.1 410.3,318.5 C410.8,318.9 411.3,319.3 411.9,319.7 C412.4,320.1 412.9,320.5 413.4,320.9 C414.0,321.4 414.5,321.8 415.0,322.2 C415.5,322.6 416.1,323.0 416.6,323.4 C417.1,323.8 417.6,324.2 418.2,324.6 C418.7,325.1 419.2,325.5 419.7,325.9 C420.3,326.3 420.8,326.7 421.3,327.1 C421.8,327.5 422.3,328.0 422.9,328.4 C423.4,328.8 423.9,329.2 424.4,329.6 C424.9,330.0 425.5,330.5 426.0,330.9 C426.5,331.3 427.0,331.7 427.5,332.1 C428.0,332.6 428.6,333.0 429.1,333.4 C429.6,333.8 430.1,334.3 430.6,334.7 C431.1,335.1 431.6,335.5 432.2,335.9 C432.7,336.4 433.2,336.8 433.7,337.2 C434.2,337.7 434.7,338.1 435.2,338.5 C435.7,338.9 436.2,339.4 436.7,339.8 C437.2,340.2 437.8,340.7 438.3,341.1 C438.8,341.5 439.3,341.9 439.8,342.4 C440.3,342.8 440.8,343.2 441.3,343.7 C441.8,344.1 442.3,344.5 442.8,345.0 C443.3,345.4 443.8,345.9 444.3,346.3 C444.8,346.7 445.3,347.2 445.8,347.6 C446.3,348.0 446.8,348.5 447.3,348.9 C447.8,349.4 448.3,349.8 448.8,350.2 C449.3,350.7 449.8,351.1 450.3,351.6 C450.8,352.0 451.3,352.4 451.8,352.9 C452.3,353.3 452.8,353.8 453.3,354.2 C453.8,354.7 454.3,355.1 454.8,355.6 C455.2,356.0 455.7,356.4 456.2,356.9 C456.7,357.3 457.2,357.8 457.7,358.2 C458.2,358.7 458.7,359.1 459.2,359.6 C459.7,360.0 460.2,360.5 460.7,360.9 C461.2,361.4 461.6,361.8 462.1,362.3 C462.6,362.7 463.1,363.2 463.6,363.6 C464.1,364.1 464.6,364.5 465.1,365.0 C465.6,365.4 466.1,365.9 466.5,366.4 C467.0,366.8 467.5,367.3 468.0,367.7 C468.5,368.2 469.0,368.6 469.5,369.1 C470.0,369.5 470.5,370.0 471.0,370.4 C471.4,370.9 471.9,371.3 472.4,371.8 C472.9,372.3 473.4,372.7 473.9,373.2 C474.4,373.6 474.9,374.1 475.4,374.5 C475.9,375.0 476.4,375.4 476.9,375.9 C477.3,376.3 477.8,376.8 478.3,377.2 C478.8,377.7 479.3,378.1 479.8,378.6 C480.3,379.0 480.8,379.5 481.3,379.9 C481.8,380.4 482.3,380.8 482.8,381.2 C483.3,381.7 483.8,382.1 484.3,382.6 C484.8,383.0 485.3,383.4 485.8,383.9 C486.3,384.3 486.8,384.8 487.3,385.2 C487.8,385.6 488.3,386.1 488.8,386.5 C489.3,386.9 489.8,387.4 490.3,387.8 C490.8,388.2 491.4,388.7 491.9,389.1 C492.4,389.5 492.9,389.9 493.4,390.4 C493.9,390.8 494.4,391.2 495.0,391.6 C495.5,392.0 496.0,392.5 496.5,392.9 C497.0,393.3 497.5,393.7 498.1,394.1 C498.6,394.5 499.1,394.9 499.6,395.3 C500.2,395.7 500.7,396.1 501.2,396.5 C501.8,396.9 502.3,397.3 502.8,397.7 C503.4,398.1 503.9,398.5 504.4,398.9 C505.0,399.3 505.5,399.7 506.0,400.1 C506.6,400.4 507.1,400.8 507.7,401.2 C508.2,401.6 508.8,402.0 509.3,402.3 C509.9,402.7 510.4,403.1 511.0,403.5 C511.5,403.8 512.1,404.2 512.6,404.6 C513.2,404.9 513.7,405.3 514.3,405.6 C514.9,406.0 515.4,406.4 516.0,406.7 C516.5,407.1 517.1,407.4 517.7,407.8 C518.2,408.1 518.8,408.5 519.4,408.8 C519.9,409.2 520.5,409.5 521.1,409.8 C521.6,410.2 522.2,410.5 522.8,410.9 C523.4,411.2 523.9,411.5 524.5,411.9 C525.1,412.2 525.7,412.5 526.2,412.9 C526.8,413.2 527.4,413.5 528.0,413.8 C528.6,414.2 529.1,414.5 529.7,414.8 C530.3,415.1 530.9,415.5 531.5,415.8 C532.1,416.1 532.7,416.4 533.2,416.7 C533.8,417.0 534.4,417.4 535.0,417.7 C535.6,418.0 536.2,418.3 536.8,418.6 C537.4,418.9 538.0,419.2 538.6,419.5 C539.2,419.8 539.8,420.1 540.4,420.4 C541.0,420.7 541.6,421.0 542.1,421.3 C542.7,421.6 543.3,421.9 543.9,422.2 C544.5,422.5 545.1,422.8 545.7,423.1 C546.3,423.4 547.0,423.7 547.6,424.0 C548.2,424.3 548.8,424.5 549.4,424.8 C550.0,425.1 550.6,425.4 551.2,425.7 C551.8,426.0 552.4,426.3 553.0,426.5 C553.6,426.8 554.2,427.1 554.8,427.4 C555.4,427.7 556.0,427.9 556.6,428.2 C557.3,428.5 557.9,428.8 558.5,429.0 C559.1,429.3 559.7,429.6 560.3,429.9 C560.9,430.1 561.5,430.4 562.1,430.7 C562.7,431.0 563.4,431.2 564.0,431.5 C564.6,431.8 565.2,432.0 565.8,432.3 C566.4,432.6 567.0,432.8 567.6,433.1 C568.3,433.4 568.9,433.6 569.5,433.9 C570.1,434.2 570.7,434.4 571.3,434.7 C571.9,435.0 572.6,435.2 573.2,435.5 C573.8,435.8 574.4,436.0 575.0,436.3 C575.6,436.5 576.2,436.8 576.9,437.1 C577.5,437.3 578.1,437.6 578.7,437.8 C579.3,438.1 579.9,438.4 580.5,438.6 C581.2,438.9 581.8,439.1 582.4,439.4 C583.0,439.7 583.6,439.9 584.2,440.2 C584.8,440.4 585.5,440.7 586.1,440.9 C586.7,441.2 587.3,441.4 587.9,441.7 C588.5,441.9 589.1,442.2 589.8,442.4 C590.4,442.7 591.0,442.9 591.6,443.2 C592.2,443.4 592.8,443.7 593.5,443.9 C594.1,444.2 594.7,444.4 595.3,444.7 C595.9,444.9 596.5,445.2 597.2,445.4 C597.8,445.6 598.4,445.9 599.0,446.1 C599.6,446.3 600.3,446.6 600.9,446.8 C601.5,447.0 602.1,447.3 602.7,447.5 C603.4,447.7 604.0,448.0 604.6,448.2 C605.2,448.4 605.9,448.6 606.5,448.9 C607.1,449.1 607.7,449.3 608.4,449.5 C609.0,449.7 609.6,450.0 610.2,450.2 C610.9,450.4 611.5,450.6 612.1,450.8 C612.7,451.0 613.4,451.2 614.0,451.4 C614.6,451.6 615.3,451.8 615.9,452.0 C616.5,452.2 617.2,452.4 617.8,452.6 C618.4,452.8 619.1,453.0 619.7,453.2 C620.3,453.4 621.0,453.6 621.6,453.8 C622.3,453.9 622.9,454.1 623.5,454.3 C624.2,454.5 624.8,454.7 625.5,454.8 C626.1,455.0 626.7,455.2 627.4,455.3 C628.0,455.5 628.7,455.7 629.3,455.8 C630.0,456.0 630.6,456.1 631.3,456.3 C631.9,456.4 632.6,456.6 633.2,456.7 C633.9,456.9 634.5,457.0 635.2,457.2 C635.9,457.3 636.5,457.4 637.2,457.6 C637.8,457.7 638.5,457.8 639.1,458.0 C639.8,458.1 640.5,458.2 641.1,458.3 C641.8,458.4 642.5,458.6 643.1,458.7 C643.8,458.8 644.5,458.9 645.1,459.0 C645.8,459.1 646.7,459.2 647.2,459.3 C647.7,459.3 648.0,459.4 648.2,459.4" stroke="#f020f0"/>
</g>
<g stroke="#000" stroke-width="2" fill="none">
<line x1="75.00" y1="8.30" x2="75.00" y2="474.80"/>
<line x1="74.00" y1="473.80" x2="651.50" y2="473.80"/>
<line x1="66.00" y1="473.80" x2="75.00" y2="473.80"/>
<line x1="66.00" y1="415.74" x2="75.00" y2="415.74"/>
<line x1="66.00" y1="357.68" x2="75.00" y2="357.68"/>
<line x1="66.00" y1="299.61" x2="75.00" y2="299.61"/>
<line x1="66.00" y1="241.55" x2="75.00" y2="241.55"/>
<line x1="66.00" y1="183.49" x2="75.00" y2="183.49"/>
<line x1="66.00" y1="125.42" x2="75.00" y2="125.42"/>
<line x1="66.00" y1="67.36" x2="75.00" y2="67.36"/>
<line x1="66.00" y1="9.30" x2="75.00" y2="9.30"/>
<line x1="70.50" y1="444.77" x2="75.00" y2="444.77"/>
<line x1="70.50" y1="386.71" x2="75.00" y2="386.71"/>
<line x1="70.50" y1="328.64" x2="75.00" y2="328.64"/>
<line x1="70.50" y1="270.58" x2="75.00" y2="270.58"/>
<line x1="70.50" y1="212.52" x2="75.00" y2="212.52"/>
<line x1="70.50" y1="154.46" x2="75.00" y2="154.46"/>
<line x1="70.50" y1="96.39" x2="75.00" y2="96.39"/>
<line x1="70.50" y1="38.33" x2="75.00" y2="38.33"/>
<line x1="75.00" y1="473.80" x2="75.00" y2="482.80"/>
<line x1="190.10" y1="473.80" x2="190.10" y2="482.80"/>
<line x1="305.20" y1="473.80" x2="305.20" y2="482.80"/>
<line x1="420.30" y1="473.80" x2="420.30" y2="482.80"/>
<line x1="535.40" y1="473.80" x2="535.40" y2="482.80"/>
<line x1="650.50" y1="473.80" x2="650.50" y2="482.80"/>
<line x1="132.55" y1="473.80" x2="132.55" y2="478.30"/>
<line x1="247.65" y1="473.80" x2="247.65" y2="478.30"/>
<line x1="362.75" y1="473.80" x2="362.75" y2="478.30"/>
<line x1="477.85" y1="473.80" x2="477.85" y2="478.30"/>
<line x1="592.95" y1="473.80" x2="592.95" y2="478.30"/>
</g>
<g font-size="22">
<text text-anchor="end" transform="translate(60,480.40) scale(1,1.07)">0.0</text>
<text text-anchor="end" transform="translate(60,422.34) scale(1,1.07)">0.1</text>
<text text-anchor="end" transform="translate(60,364.28) scale(1,1.07)">0.2</text>
<text text-anchor="end" transform="translate(60,306.21) scale(1,1.07)">0.3</text>
<text text-anchor="end" transform="translate(60,248.15) scale(1,1.07)">0.4</text>
<text text-anchor="end" transform="translate(60,190.09) scale(1,1.07)">0.5</text>
<text text-anchor="end" transform="translate(60,132.02) scale(1,1.07)">0.6</text>
<text text-anchor="end" transform="translate(60,73.96) scale(1,1.07)">0.7</text>
<text text-anchor="end" transform="translate(60,15.90) scale(1,1.07)">0.8</text>
<text text-anchor="middle" transform="translate(75.00,505.7) scale(1,1.07)">350</text>
<text text-anchor="middle" transform="translate(190.10,505.7) scale(1,1.07)">400</text>
<text text-anchor="middle" transform="translate(305.20,505.7) scale(1,1.07)">450</text>
<text text-anchor="middle" transform="translate(420.30,505.7) scale(1,1.07)">500</text>
<text text-anchor="middle" transform="translate(535.40,505.7) scale(1,1.07)">550</text>
<text text-anchor="middle" transform="translate(650.50,505.7) scale(1,1.07)">600</text>
</g>
<g>
<line x1="478" y1="152.30" x2="533" y2="152.30" stroke="#f020f0" stroke-width="1.7"/>
<text font-size="24" x="538.5" y="160.80">3a+N3</text>
<line x1="478" y1="182.72" x2="533" y2="182.72" stroke="#e48a40" stroke-width="1.7"/>
<text font-size="24" x="538.5" y="191.22">3b+N3</text>
<line x1="478" y1="213.14" x2="533" y2="213.14" stroke="#861e28" stroke-width="1.7"/>
<text font-size="24" x="538.5" y="221.64">3c+N3</text>
<line x1="478" y1="243.56" x2="533" y2="243.56" stroke="#237d28" stroke-width="1.7"/>
<text font-size="24" x="538.5" y="252.06">5a+N3</text>
<line x1="478" y1="273.98" x2="533" y2="273.98" stroke="#0505e6" stroke-width="1.7"/>
<text font-size="24" x="538.5" y="282.48">5b+N3</text>
<line x1="478" y1="304.40" x2="533" y2="304.40" stroke="#eb1919" stroke-width="1.7"/>
<text font-size="24" x="538.5" y="312.90">5c+N3</text>
</g>
<text x="0" y="0" font-size="21.8" transform="translate(16.8,323) rotate(-90) scale(1,1.07)">Absorbance (a.u.)</text>
<text font-size="22" transform="translate(282.5,544.8) scale(1,1.07)">Wavelength (nm)</text>
</svg>
</body></html>
